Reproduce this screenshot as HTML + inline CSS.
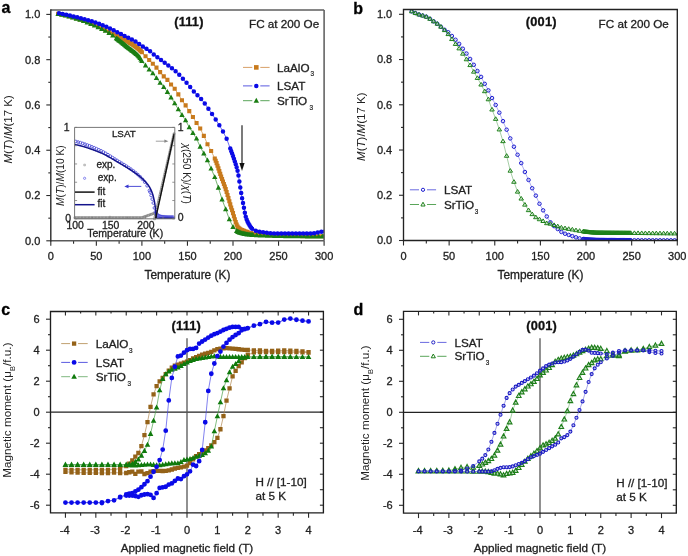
<!DOCTYPE html>
<html><head><meta charset="utf-8"><style>
html,body{margin:0;padding:0;background:#fff;width:688px;height:556px;overflow:hidden}
svg{display:block;filter:blur(0.35px)}
text{font-family:"Liberation Sans", sans-serif}
</style></head><body>
<svg width="688" height="556" viewBox="0 0 688 556" font-family='"Liberation Sans", sans-serif'>
<rect width="688" height="556" fill="#fff"/>
<line x1="50.8" y1="240.8" x2="50.8" y2="245.8" stroke="#2a2a2a" stroke-width="1.1" />
<text x="50.8" y="260.2" font-size="11" text-anchor="middle" font-weight="normal" fill="#222" stroke="#222" stroke-width="0.3" >0</text>
<line x1="73.57" y1="240.8" x2="73.57" y2="243.8" stroke="#2a2a2a" stroke-width="1.1" />
<line x1="96.35" y1="240.8" x2="96.35" y2="245.8" stroke="#2a2a2a" stroke-width="1.1" />
<text x="96.35" y="260.2" font-size="11" text-anchor="middle" font-weight="normal" fill="#222" stroke="#222" stroke-width="0.3" >50</text>
<line x1="119.12" y1="240.8" x2="119.12" y2="243.8" stroke="#2a2a2a" stroke-width="1.1" />
<line x1="141.9" y1="240.8" x2="141.9" y2="245.8" stroke="#2a2a2a" stroke-width="1.1" />
<text x="141.9" y="260.2" font-size="11" text-anchor="middle" font-weight="normal" fill="#222" stroke="#222" stroke-width="0.3" >100</text>
<line x1="164.68" y1="240.8" x2="164.68" y2="243.8" stroke="#2a2a2a" stroke-width="1.1" />
<line x1="187.45" y1="240.8" x2="187.45" y2="245.8" stroke="#2a2a2a" stroke-width="1.1" />
<text x="187.45" y="260.2" font-size="11" text-anchor="middle" font-weight="normal" fill="#222" stroke="#222" stroke-width="0.3" >150</text>
<line x1="210.23" y1="240.8" x2="210.23" y2="243.8" stroke="#2a2a2a" stroke-width="1.1" />
<line x1="233" y1="240.8" x2="233" y2="245.8" stroke="#2a2a2a" stroke-width="1.1" />
<text x="233" y="260.2" font-size="11" text-anchor="middle" font-weight="normal" fill="#222" stroke="#222" stroke-width="0.3" >200</text>
<line x1="255.77" y1="240.8" x2="255.77" y2="243.8" stroke="#2a2a2a" stroke-width="1.1" />
<line x1="278.55" y1="240.8" x2="278.55" y2="245.8" stroke="#2a2a2a" stroke-width="1.1" />
<text x="278.55" y="260.2" font-size="11" text-anchor="middle" font-weight="normal" fill="#222" stroke="#222" stroke-width="0.3" >250</text>
<line x1="301.32" y1="240.8" x2="301.32" y2="243.8" stroke="#2a2a2a" stroke-width="1.1" />
<line x1="324.1" y1="240.8" x2="324.1" y2="245.8" stroke="#2a2a2a" stroke-width="1.1" />
<text x="324.1" y="260.2" font-size="11" text-anchor="middle" font-weight="normal" fill="#222" stroke="#222" stroke-width="0.3" >300</text>
<line x1="46.3" y1="240.8" x2="50.8" y2="240.8" stroke="#2a2a2a" stroke-width="1.1" />
<text x="40.3" y="244.7" font-size="11" text-anchor="end" font-weight="normal" fill="#222" stroke="#222" stroke-width="0.3" >0.0</text>
<line x1="48.3" y1="218.16" x2="50.8" y2="218.16" stroke="#2a2a2a" stroke-width="1.1" />
<line x1="46.3" y1="195.52" x2="50.8" y2="195.52" stroke="#2a2a2a" stroke-width="1.1" />
<text x="40.3" y="199.42" font-size="11" text-anchor="end" font-weight="normal" fill="#222" stroke="#222" stroke-width="0.3" >0.2</text>
<line x1="48.3" y1="172.88" x2="50.8" y2="172.88" stroke="#2a2a2a" stroke-width="1.1" />
<line x1="46.3" y1="150.24" x2="50.8" y2="150.24" stroke="#2a2a2a" stroke-width="1.1" />
<text x="40.3" y="154.14" font-size="11" text-anchor="end" font-weight="normal" fill="#222" stroke="#222" stroke-width="0.3" >0.4</text>
<line x1="48.3" y1="127.6" x2="50.8" y2="127.6" stroke="#2a2a2a" stroke-width="1.1" />
<line x1="46.3" y1="104.96" x2="50.8" y2="104.96" stroke="#2a2a2a" stroke-width="1.1" />
<text x="40.3" y="108.86" font-size="11" text-anchor="end" font-weight="normal" fill="#222" stroke="#222" stroke-width="0.3" >0.6</text>
<line x1="48.3" y1="82.32" x2="50.8" y2="82.32" stroke="#2a2a2a" stroke-width="1.1" />
<line x1="46.3" y1="59.68" x2="50.8" y2="59.68" stroke="#2a2a2a" stroke-width="1.1" />
<text x="40.3" y="63.58" font-size="11" text-anchor="end" font-weight="normal" fill="#222" stroke="#222" stroke-width="0.3" >0.8</text>
<line x1="48.3" y1="37.04" x2="50.8" y2="37.04" stroke="#2a2a2a" stroke-width="1.1" />
<line x1="46.3" y1="14.4" x2="50.8" y2="14.4" stroke="#2a2a2a" stroke-width="1.1" />
<text x="40.3" y="18.3" font-size="11" text-anchor="end" font-weight="normal" fill="#222" stroke="#222" stroke-width="0.3" >1.0</text>
<text x="1.5" y="13.4" font-size="16" text-anchor="start" font-weight="bold" fill="#000" stroke="#000" stroke-width="0.3" >a</text>
<text x="187.45" y="279" font-size="11.9" text-anchor="middle" font-weight="normal" fill="#222" stroke="#222" stroke-width="0.3" >Temperature (K)</text>
<text transform="translate(12,129.4) rotate(-90)" font-size="11.5" text-anchor="middle" fill="#222"><tspan font-style="italic">M</tspan>(<tspan font-style="italic">T</tspan>)/<tspan font-style="italic">M</tspan>(17 K)</text>
<text x="174.2" y="25.5" font-size="12.8" text-anchor="start" font-weight="bold" fill="#111" stroke="#111" stroke-width="0.3" letter-spacing="0.2">(111)</text>
<text x="249" y="28" font-size="11.7" text-anchor="start" font-weight="normal" fill="#222" stroke="#222" stroke-width="0.3" >FC at 200 Oe</text>
<clipPath id="ca"><rect x="50.6" y="9.8" width="273.5" height="230.89999999999998"/></clipPath><g clip-path="url(#ca)">
<path d="M58.09 13.9L61.73 14.54L65.38 15.31L69.02 16.19L72.66 17.17L76.31 18.23L79.95 19.37L83.6 20.56L87.24 21.85L90.88 23.35L94.53 25L98.17 26.72L101.82 28.42L105.46 30.08L109.1 31.76L112.75 33.49L116.39 35.3L117.3 35.76L118.21 36.22L119.12 36.68L120.04 37.15L120.95 37.63L121.86 38.11L122.77 38.59L123.68 39.09L124.59 39.59L125.5 40.11L126.41 40.64L127.32 41.19L128.24 41.75L129.15 42.31L130.06 42.89L130.97 43.47L131.88 44.07L132.79 44.68L133.7 45.31L134.61 45.95L135.52 46.62L136.43 47.31L137.34 48.02L138.26 48.76L139.17 49.53L140.08 50.35L140.99 51.28L141.9 52.27L145.54 56.23L149.19 59.98L152.83 63.72L156.48 67.66L160.12 72.12L163.76 76.37L167.41 79.88L171.05 84.52L174.7 88.69L178.34 94.33L181.98 100.22L185.63 105.34L189.27 111.15L192.92 117.06L196.56 123.06L200.2 128.56L203.85 135.9L207.49 144.19L211.14 150.98L214.78 158.48L215.69 160.71L216.6 163.15L217.51 165.74L218.42 168.42L219.33 171.14L220.25 173.84L221.16 176.44L222.07 178.96L222.98 181.44L223.89 183.93L224.8 186.48L225.71 189.13L226.62 191.95L227.53 194.96L228.44 198.09L229.36 201.26L230.27 204.41L231.18 207.43L232.09 210.27L233 213.17L233.91 216.23L234.82 219.28L235.73 222.13L236.64 224.63L237.56 226.61L238.47 227.88L239.38 228.59L240.29 229.2L241.2 229.71L242.11 230.16L243.02 230.54L243.93 230.88L244.84 231.19L245.75 231.47L246.67 231.76L247.58 232.04L251.22 233.12L254.86 233.98L258.51 234.5L262.15 234.77L265.8 234.98L269.44 235.15L273.08 235.29L276.73 235.4L280.37 235.51L284.02 235.62L287.66 235.72L291.3 235.83L294.95 235.92L298.59 236.01L302.24 236.09L305.88 236.17L309.52 236.22L313.17 236.27L316.81 236.29L320.46 236.3L324.1 236.3" fill="none" stroke="#c87a1c" stroke-width="0.6" stroke-opacity="1.0"/>
<path d="M56.04 11.85h4.1v4.1h-4.1zM59.68 12.49h4.1v4.1h-4.1zM63.33 13.26h4.1v4.1h-4.1zM66.97 14.14h4.1v4.1h-4.1zM70.61 15.12h4.1v4.1h-4.1zM74.26 16.18h4.1v4.1h-4.1zM77.9 17.32h4.1v4.1h-4.1zM81.55 18.51h4.1v4.1h-4.1zM85.19 19.8h4.1v4.1h-4.1zM88.83 21.3h4.1v4.1h-4.1zM92.48 22.95h4.1v4.1h-4.1zM96.12 24.67h4.1v4.1h-4.1zM99.77 26.37h4.1v4.1h-4.1zM103.41 28.03h4.1v4.1h-4.1zM107.05 29.71h4.1v4.1h-4.1zM110.7 31.44h4.1v4.1h-4.1zM114.34 33.25h4.1v4.1h-4.1zM115.25 33.71h4.1v4.1h-4.1zM116.16 34.17h4.1v4.1h-4.1zM117.08 34.63h4.1v4.1h-4.1zM117.99 35.1h4.1v4.1h-4.1zM118.9 35.58h4.1v4.1h-4.1zM119.81 36.06h4.1v4.1h-4.1zM120.72 36.54h4.1v4.1h-4.1zM121.63 37.04h4.1v4.1h-4.1zM122.54 37.54h4.1v4.1h-4.1zM123.45 38.06h4.1v4.1h-4.1zM124.36 38.59h4.1v4.1h-4.1zM125.27 39.14h4.1v4.1h-4.1zM126.19 39.7h4.1v4.1h-4.1zM127.1 40.26h4.1v4.1h-4.1zM128.01 40.84h4.1v4.1h-4.1zM128.92 41.42h4.1v4.1h-4.1zM129.83 42.02h4.1v4.1h-4.1zM130.74 42.63h4.1v4.1h-4.1zM131.65 43.26h4.1v4.1h-4.1zM132.56 43.9h4.1v4.1h-4.1zM133.47 44.57h4.1v4.1h-4.1zM134.38 45.26h4.1v4.1h-4.1zM135.29 45.97h4.1v4.1h-4.1zM136.21 46.71h4.1v4.1h-4.1zM137.12 47.48h4.1v4.1h-4.1zM138.03 48.3h4.1v4.1h-4.1zM138.94 49.23h4.1v4.1h-4.1zM139.85 50.22h4.1v4.1h-4.1zM143.49 54.18h4.1v4.1h-4.1zM147.14 57.93h4.1v4.1h-4.1zM150.78 61.67h4.1v4.1h-4.1zM154.43 65.61h4.1v4.1h-4.1zM158.07 70.07h4.1v4.1h-4.1zM161.71 74.32h4.1v4.1h-4.1zM165.36 77.83h4.1v4.1h-4.1zM169 82.47h4.1v4.1h-4.1zM172.65 86.64h4.1v4.1h-4.1zM176.29 92.28h4.1v4.1h-4.1zM179.93 98.17h4.1v4.1h-4.1zM183.58 103.29h4.1v4.1h-4.1zM187.22 109.1h4.1v4.1h-4.1zM190.87 115.01h4.1v4.1h-4.1zM194.51 121.01h4.1v4.1h-4.1zM198.15 126.51h4.1v4.1h-4.1zM201.8 133.85h4.1v4.1h-4.1zM205.44 142.14h4.1v4.1h-4.1zM209.09 148.93h4.1v4.1h-4.1zM212.73 156.43h4.1v4.1h-4.1zM213.64 158.66h4.1v4.1h-4.1zM214.55 161.1h4.1v4.1h-4.1zM215.46 163.69h4.1v4.1h-4.1zM216.37 166.37h4.1v4.1h-4.1zM217.28 169.09h4.1v4.1h-4.1zM218.2 171.79h4.1v4.1h-4.1zM219.11 174.39h4.1v4.1h-4.1zM220.02 176.91h4.1v4.1h-4.1zM220.93 179.39h4.1v4.1h-4.1zM221.84 181.88h4.1v4.1h-4.1zM222.75 184.43h4.1v4.1h-4.1zM223.66 187.08h4.1v4.1h-4.1zM224.57 189.9h4.1v4.1h-4.1zM225.48 192.91h4.1v4.1h-4.1zM226.39 196.04h4.1v4.1h-4.1zM227.31 199.21h4.1v4.1h-4.1zM228.22 202.36h4.1v4.1h-4.1zM229.13 205.38h4.1v4.1h-4.1zM230.04 208.22h4.1v4.1h-4.1zM230.95 211.12h4.1v4.1h-4.1zM231.86 214.18h4.1v4.1h-4.1zM232.77 217.23h4.1v4.1h-4.1zM233.68 220.08h4.1v4.1h-4.1zM234.59 222.58h4.1v4.1h-4.1zM235.5 224.56h4.1v4.1h-4.1zM236.42 225.83h4.1v4.1h-4.1zM237.33 226.54h4.1v4.1h-4.1zM238.24 227.15h4.1v4.1h-4.1zM239.15 227.66h4.1v4.1h-4.1zM240.06 228.11h4.1v4.1h-4.1zM240.97 228.49h4.1v4.1h-4.1zM241.88 228.83h4.1v4.1h-4.1zM242.79 229.14h4.1v4.1h-4.1zM243.7 229.42h4.1v4.1h-4.1zM244.62 229.71h4.1v4.1h-4.1zM245.53 229.99h4.1v4.1h-4.1zM249.17 231.07h4.1v4.1h-4.1zM252.81 231.93h4.1v4.1h-4.1zM256.46 232.45h4.1v4.1h-4.1zM260.1 232.72h4.1v4.1h-4.1zM263.75 232.93h4.1v4.1h-4.1zM267.39 233.1h4.1v4.1h-4.1zM271.03 233.24h4.1v4.1h-4.1zM274.68 233.35h4.1v4.1h-4.1zM278.32 233.46h4.1v4.1h-4.1zM281.97 233.57h4.1v4.1h-4.1zM285.61 233.67h4.1v4.1h-4.1zM289.25 233.78h4.1v4.1h-4.1zM292.9 233.87h4.1v4.1h-4.1zM296.54 233.96h4.1v4.1h-4.1zM300.19 234.04h4.1v4.1h-4.1zM303.83 234.12h4.1v4.1h-4.1zM307.47 234.17h4.1v4.1h-4.1zM311.12 234.22h4.1v4.1h-4.1zM314.76 234.24h4.1v4.1h-4.1zM318.41 234.25h4.1v4.1h-4.1zM322.05 234.25h4.1v4.1h-4.1z" fill="#c87a1c"/>
<path d="M58.09 14.09L61.73 14.79L65.38 15.62L69.02 16.56L72.66 17.6L76.31 18.72L79.95 19.91L83.6 21.15L87.24 22.48L90.88 24.04L94.53 25.65L98.17 27.27L101.82 29.01L105.46 30.91L109.1 33.04L112.75 35.58L116.39 38.35L117.3 39.04L118.21 39.73L119.12 40.43L120.04 41.14L120.95 41.85L121.86 42.56L122.77 43.28L123.68 44.01L124.59 44.73L125.5 45.47L126.41 46.21L127.32 46.95L128.24 47.69L129.15 48.41L130.06 49.1L130.97 49.77L131.88 50.44L132.79 51.11L133.7 51.79L134.61 52.5L135.52 53.25L136.43 54.05L137.34 54.92L138.26 55.85L139.17 56.86L140.08 58.04L140.99 59.66L141.9 61.06L145.54 65.43L149.19 69.59L152.83 73.29L156.48 78.13L160.12 82.92L163.76 87.06L167.41 91.98L171.05 97.51L174.7 103.37L178.34 109.3L181.98 115.02L185.63 120.42L189.27 127.3L192.92 132.95L196.56 138.68L200.2 146.78L203.85 153.52L207.49 160.36L211.14 168.65L214.78 177.13L218.42 187.79L222.07 199.46L225.71 209.23L229.36 219.34L233 226.97L236.64 231.02L237.56 231.58L238.47 232.03L239.38 232.43L240.29 232.78L241.2 233.09L242.11 233.35L243.02 233.59L243.93 233.79L244.84 233.97L245.75 234.14L246.67 234.29L247.58 234.44L248.49 234.57L249.4 234.69L250.31 234.8L251.22 234.89L252.13 234.97L253.04 235.03L256.69 235.26L260.33 235.46L263.97 235.64L267.62 235.78L271.26 235.9L274.91 236L278.55 236.08L282.19 236.13L285.84 236.19L289.48 236.24L293.13 236.29L296.77 236.33L300.41 236.37L304.06 236.41L307.7 236.44L311.35 236.46L314.99 236.48L318.63 236.49L322.28 236.5L324.1 236.5" fill="none" stroke="#1a7d12" stroke-width="0.6" stroke-opacity="1.0"/>
<path d="M58.09 11.18L60.79 16.04L55.39 16.04zM61.73 11.88L64.43 16.74L59.03 16.74zM65.38 12.71L68.08 17.57L62.68 17.57zM69.02 13.65L71.72 18.51L66.32 18.51zM72.66 14.69L75.36 19.55L69.96 19.55zM76.31 15.81L79.01 20.67L73.61 20.67zM79.95 16.99L82.65 21.85L77.25 21.85zM83.6 18.23L86.3 23.09L80.9 23.09zM87.24 19.57L89.94 24.43L84.54 24.43zM90.88 21.13L93.58 25.99L88.18 25.99zM94.53 22.73L97.23 27.59L91.83 27.59zM98.17 24.36L100.87 29.22L95.47 29.22zM101.82 26.09L104.52 30.95L99.12 30.95zM105.46 27.99L108.16 32.85L102.76 32.85zM109.1 30.12L111.8 34.98L106.4 34.98zM112.75 32.66L115.45 37.52L110.05 37.52zM116.39 35.43L119.09 40.29L113.69 40.29zM117.3 36.12L120 40.98L114.6 40.98zM118.21 36.82L120.91 41.68L115.51 41.68zM119.12 37.52L121.83 42.38L116.42 42.38zM120.04 38.22L122.74 43.08L117.34 43.08zM120.95 38.93L123.65 43.79L118.25 43.79zM121.86 39.65L124.56 44.51L119.16 44.51zM122.77 40.37L125.47 45.23L120.07 45.23zM123.68 41.09L126.38 45.95L120.98 45.95zM124.59 41.82L127.29 46.68L121.89 46.68zM125.5 42.55L128.2 47.41L122.8 47.41zM126.41 43.29L129.11 48.15L123.71 48.15zM127.32 44.03L130.02 48.89L124.62 48.89zM128.24 44.78L130.94 49.64L125.54 49.64zM129.15 45.49L131.85 50.35L126.45 50.35zM130.06 46.18L132.76 51.04L127.36 51.04zM130.97 46.85L133.67 51.71L128.27 51.71zM131.88 47.52L134.58 52.38L129.18 52.38zM132.79 48.19L135.49 53.05L130.09 53.05zM133.7 48.88L136.4 53.74L131 53.74zM134.61 49.59L137.31 54.45L131.91 54.45zM135.52 50.34L138.22 55.2L132.82 55.2zM136.43 51.14L139.13 56L133.73 56zM137.34 52L140.04 56.86L134.65 56.86zM138.26 52.93L140.96 57.79L135.56 57.79zM139.17 53.95L141.87 58.81L136.47 58.81zM140.08 55.12L142.78 59.98L137.38 59.98zM140.99 56.75L143.69 61.61L138.29 61.61zM141.9 58.14L144.6 63L139.2 63zM145.54 62.52L148.24 67.38L142.84 67.38zM149.19 66.68L151.89 71.54L146.49 71.54zM152.83 70.38L155.53 75.24L150.13 75.24zM156.48 75.22L159.18 80.08L153.78 80.08zM160.12 80.01L162.82 84.87L157.42 84.87zM163.76 84.14L166.46 89L161.06 89zM167.41 89.07L170.11 93.93L164.71 93.93zM171.05 94.6L173.75 99.46L168.35 99.46zM174.7 100.46L177.4 105.32L172 105.32zM178.34 106.38L181.04 111.24L175.64 111.24zM181.98 112.11L184.68 116.97L179.28 116.97zM185.63 117.5L188.33 122.36L182.93 122.36zM189.27 124.39L191.97 129.25L186.57 129.25zM192.92 130.04L195.62 134.9L190.22 134.9zM196.56 135.76L199.26 140.62L193.86 140.62zM200.2 143.87L202.9 148.73L197.5 148.73zM203.85 150.6L206.55 155.46L201.15 155.46zM207.49 157.44L210.19 162.3L204.79 162.3zM211.14 165.73L213.84 170.59L208.44 170.59zM214.78 174.22L217.48 179.08L212.08 179.08zM218.42 184.87L221.12 189.73L215.72 189.73zM222.07 196.54L224.77 201.4L219.37 201.4zM225.71 206.32L228.41 211.18L223.01 211.18zM229.36 216.42L232.06 221.28L226.66 221.28zM233 224.06L235.7 228.92L230.3 228.92zM236.64 228.1L239.34 232.96L233.94 232.96zM237.56 228.67L240.25 233.53L234.86 233.53zM238.47 229.12L241.17 233.98L235.77 233.98zM239.38 229.52L242.08 234.38L236.68 234.38zM240.29 229.87L242.99 234.73L237.59 234.73zM241.2 230.17L243.9 235.03L238.5 235.03zM242.11 230.44L244.81 235.3L239.41 235.3zM243.02 230.67L245.72 235.53L240.32 235.53zM243.93 230.87L246.63 235.73L241.23 235.73zM244.84 231.05L247.54 235.91L242.14 235.91zM245.75 231.22L248.45 236.08L243.05 236.08zM246.67 231.38L249.37 236.24L243.97 236.24zM247.58 231.52L250.28 236.38L244.88 236.38zM248.49 231.65L251.19 236.51L245.79 236.51zM249.4 231.77L252.1 236.63L246.7 236.63zM250.31 231.88L253.01 236.74L247.61 236.74zM251.22 231.97L253.92 236.83L248.52 236.83zM252.13 232.05L254.83 236.91L249.43 236.91zM253.04 232.11L255.74 236.97L250.34 236.97zM256.69 232.35L259.39 237.21L253.99 237.21zM260.33 232.55L263.03 237.41L257.63 237.41zM263.97 232.72L266.67 237.58L261.27 237.58zM267.62 232.87L270.32 237.73L264.92 237.73zM271.26 232.99L273.96 237.85L268.56 237.85zM274.91 233.08L277.61 237.94L272.21 237.94zM278.55 233.16L281.25 238.02L275.85 238.02zM282.19 233.22L284.89 238.08L279.49 238.08zM285.84 233.27L288.54 238.13L283.14 238.13zM289.48 233.32L292.18 238.18L286.78 238.18zM293.13 233.37L295.83 238.23L290.43 238.23zM296.77 233.42L299.47 238.28L294.07 238.28zM300.41 233.46L303.11 238.32L297.71 238.32zM304.06 233.49L306.76 238.35L301.36 238.35zM307.7 233.52L310.4 238.38L305 238.38zM311.35 233.55L314.05 238.41L308.65 238.41zM314.99 233.57L317.69 238.43L312.29 238.43zM318.63 233.58L321.33 238.44L315.93 238.44zM322.28 233.58L324.98 238.44L319.58 238.44zM324.1 233.58L326.8 238.44L321.4 238.44z" fill="#1a7d12"/>
<path d="M59 13.35L62.64 14.04L66.29 14.79L69.93 15.59L73.57 16.44L77.22 17.32L80.86 18.25L84.51 19.2L88.15 20.21L91.79 21.33L95.44 22.54L99.08 23.84L102.73 25.25L106.37 26.81L110.02 28.51L113.66 30.27L117.3 32.15L120.95 34.1L124.59 36L128.24 37.77L131.88 39.54L135.52 41.53L139.17 44.01L142.81 46.52L146.45 48.65L150.1 51.14L153.74 54.44L157.39 57.24L161.03 59.95L164.68 62.73L168.32 65.51L171.96 68.22L175.61 71.13L179.25 74.78L182.89 78.85L186.54 82.83L190.18 86.96L193.83 91.5L197.47 95.25L201.12 98.96L204.76 103.55L208.4 108.66L212.05 113.95L215.69 119.52L219.33 125.25L222.98 131.43L226.62 138.67L230.27 148.46L231.18 150.97L232.09 153.48L233 156.04L233.91 158.73L234.82 161.44L235.73 164.15L236.64 167.13L237.56 170.67L238.47 175.47L239.38 181.58L240.29 187.53L241.2 192.95L242.11 198.16L243.02 203.07L243.93 207.82L244.84 212.73L245.75 216.82L246.67 219.54L247.58 221.7L248.49 223.48L249.4 225.08L250.31 226.55L251.22 227.81L252.13 228.76L255.77 230.67L259.42 231.76L263.06 232.32L266.71 232.78L270.35 233.15L274 233.42L277.64 233.57L281.28 233.6L284.93 233.6L288.57 233.6L292.21 233.6L295.86 233.6L299.5 233.6L303.15 233.58L306.79 233.52L310.44 233.41L314.08 233.25L317.72 232.46L321.37 231.64L325.01 231.58" fill="none" stroke="#0a0ae6" stroke-width="0.6" stroke-opacity="1.0"/>
<path d="M56.75 13.35a2.25 2.25 0 1 0 4.5 0a2.25 2.25 0 1 0 -4.5 0zM60.39 14.04a2.25 2.25 0 1 0 4.5 0a2.25 2.25 0 1 0 -4.5 0zM64.04 14.79a2.25 2.25 0 1 0 4.5 0a2.25 2.25 0 1 0 -4.5 0zM67.68 15.59a2.25 2.25 0 1 0 4.5 0a2.25 2.25 0 1 0 -4.5 0zM71.32 16.44a2.25 2.25 0 1 0 4.5 0a2.25 2.25 0 1 0 -4.5 0zM74.97 17.32a2.25 2.25 0 1 0 4.5 0a2.25 2.25 0 1 0 -4.5 0zM78.61 18.25a2.25 2.25 0 1 0 4.5 0a2.25 2.25 0 1 0 -4.5 0zM82.26 19.2a2.25 2.25 0 1 0 4.5 0a2.25 2.25 0 1 0 -4.5 0zM85.9 20.21a2.25 2.25 0 1 0 4.5 0a2.25 2.25 0 1 0 -4.5 0zM89.54 21.33a2.25 2.25 0 1 0 4.5 0a2.25 2.25 0 1 0 -4.5 0zM93.19 22.54a2.25 2.25 0 1 0 4.5 0a2.25 2.25 0 1 0 -4.5 0zM96.83 23.84a2.25 2.25 0 1 0 4.5 0a2.25 2.25 0 1 0 -4.5 0zM100.48 25.25a2.25 2.25 0 1 0 4.5 0a2.25 2.25 0 1 0 -4.5 0zM104.12 26.81a2.25 2.25 0 1 0 4.5 0a2.25 2.25 0 1 0 -4.5 0zM107.77 28.51a2.25 2.25 0 1 0 4.5 0a2.25 2.25 0 1 0 -4.5 0zM111.41 30.27a2.25 2.25 0 1 0 4.5 0a2.25 2.25 0 1 0 -4.5 0zM115.05 32.15a2.25 2.25 0 1 0 4.5 0a2.25 2.25 0 1 0 -4.5 0zM118.7 34.1a2.25 2.25 0 1 0 4.5 0a2.25 2.25 0 1 0 -4.5 0zM122.34 36a2.25 2.25 0 1 0 4.5 0a2.25 2.25 0 1 0 -4.5 0zM125.99 37.77a2.25 2.25 0 1 0 4.5 0a2.25 2.25 0 1 0 -4.5 0zM129.63 39.54a2.25 2.25 0 1 0 4.5 0a2.25 2.25 0 1 0 -4.5 0zM133.27 41.53a2.25 2.25 0 1 0 4.5 0a2.25 2.25 0 1 0 -4.5 0zM136.92 44.01a2.25 2.25 0 1 0 4.5 0a2.25 2.25 0 1 0 -4.5 0zM140.56 46.52a2.25 2.25 0 1 0 4.5 0a2.25 2.25 0 1 0 -4.5 0zM144.2 48.65a2.25 2.25 0 1 0 4.5 0a2.25 2.25 0 1 0 -4.5 0zM147.85 51.14a2.25 2.25 0 1 0 4.5 0a2.25 2.25 0 1 0 -4.5 0zM151.49 54.44a2.25 2.25 0 1 0 4.5 0a2.25 2.25 0 1 0 -4.5 0zM155.14 57.24a2.25 2.25 0 1 0 4.5 0a2.25 2.25 0 1 0 -4.5 0zM158.78 59.95a2.25 2.25 0 1 0 4.5 0a2.25 2.25 0 1 0 -4.5 0zM162.43 62.73a2.25 2.25 0 1 0 4.5 0a2.25 2.25 0 1 0 -4.5 0zM166.07 65.51a2.25 2.25 0 1 0 4.5 0a2.25 2.25 0 1 0 -4.5 0zM169.71 68.22a2.25 2.25 0 1 0 4.5 0a2.25 2.25 0 1 0 -4.5 0zM173.36 71.13a2.25 2.25 0 1 0 4.5 0a2.25 2.25 0 1 0 -4.5 0zM177 74.78a2.25 2.25 0 1 0 4.5 0a2.25 2.25 0 1 0 -4.5 0zM180.64 78.85a2.25 2.25 0 1 0 4.5 0a2.25 2.25 0 1 0 -4.5 0zM184.29 82.83a2.25 2.25 0 1 0 4.5 0a2.25 2.25 0 1 0 -4.5 0zM187.93 86.96a2.25 2.25 0 1 0 4.5 0a2.25 2.25 0 1 0 -4.5 0zM191.58 91.5a2.25 2.25 0 1 0 4.5 0a2.25 2.25 0 1 0 -4.5 0zM195.22 95.25a2.25 2.25 0 1 0 4.5 0a2.25 2.25 0 1 0 -4.5 0zM198.87 98.96a2.25 2.25 0 1 0 4.5 0a2.25 2.25 0 1 0 -4.5 0zM202.51 103.55a2.25 2.25 0 1 0 4.5 0a2.25 2.25 0 1 0 -4.5 0zM206.15 108.66a2.25 2.25 0 1 0 4.5 0a2.25 2.25 0 1 0 -4.5 0zM209.8 113.95a2.25 2.25 0 1 0 4.5 0a2.25 2.25 0 1 0 -4.5 0zM213.44 119.52a2.25 2.25 0 1 0 4.5 0a2.25 2.25 0 1 0 -4.5 0zM217.08 125.25a2.25 2.25 0 1 0 4.5 0a2.25 2.25 0 1 0 -4.5 0zM220.73 131.43a2.25 2.25 0 1 0 4.5 0a2.25 2.25 0 1 0 -4.5 0zM224.37 138.67a2.25 2.25 0 1 0 4.5 0a2.25 2.25 0 1 0 -4.5 0zM228.02 148.46a2.25 2.25 0 1 0 4.5 0a2.25 2.25 0 1 0 -4.5 0zM228.93 150.97a2.25 2.25 0 1 0 4.5 0a2.25 2.25 0 1 0 -4.5 0zM229.84 153.48a2.25 2.25 0 1 0 4.5 0a2.25 2.25 0 1 0 -4.5 0zM230.75 156.04a2.25 2.25 0 1 0 4.5 0a2.25 2.25 0 1 0 -4.5 0zM231.66 158.73a2.25 2.25 0 1 0 4.5 0a2.25 2.25 0 1 0 -4.5 0zM232.57 161.44a2.25 2.25 0 1 0 4.5 0a2.25 2.25 0 1 0 -4.5 0zM233.48 164.15a2.25 2.25 0 1 0 4.5 0a2.25 2.25 0 1 0 -4.5 0zM234.39 167.13a2.25 2.25 0 1 0 4.5 0a2.25 2.25 0 1 0 -4.5 0zM235.31 170.67a2.25 2.25 0 1 0 4.5 0a2.25 2.25 0 1 0 -4.5 0zM236.22 175.47a2.25 2.25 0 1 0 4.5 0a2.25 2.25 0 1 0 -4.5 0zM237.13 181.58a2.25 2.25 0 1 0 4.5 0a2.25 2.25 0 1 0 -4.5 0zM238.04 187.53a2.25 2.25 0 1 0 4.5 0a2.25 2.25 0 1 0 -4.5 0zM238.95 192.95a2.25 2.25 0 1 0 4.5 0a2.25 2.25 0 1 0 -4.5 0zM239.86 198.16a2.25 2.25 0 1 0 4.5 0a2.25 2.25 0 1 0 -4.5 0zM240.77 203.07a2.25 2.25 0 1 0 4.5 0a2.25 2.25 0 1 0 -4.5 0zM241.68 207.82a2.25 2.25 0 1 0 4.5 0a2.25 2.25 0 1 0 -4.5 0zM242.59 212.73a2.25 2.25 0 1 0 4.5 0a2.25 2.25 0 1 0 -4.5 0zM243.5 216.82a2.25 2.25 0 1 0 4.5 0a2.25 2.25 0 1 0 -4.5 0zM244.42 219.54a2.25 2.25 0 1 0 4.5 0a2.25 2.25 0 1 0 -4.5 0zM245.33 221.7a2.25 2.25 0 1 0 4.5 0a2.25 2.25 0 1 0 -4.5 0zM246.24 223.48a2.25 2.25 0 1 0 4.5 0a2.25 2.25 0 1 0 -4.5 0zM247.15 225.08a2.25 2.25 0 1 0 4.5 0a2.25 2.25 0 1 0 -4.5 0zM248.06 226.55a2.25 2.25 0 1 0 4.5 0a2.25 2.25 0 1 0 -4.5 0zM248.97 227.81a2.25 2.25 0 1 0 4.5 0a2.25 2.25 0 1 0 -4.5 0zM249.88 228.76a2.25 2.25 0 1 0 4.5 0a2.25 2.25 0 1 0 -4.5 0zM253.52 230.67a2.25 2.25 0 1 0 4.5 0a2.25 2.25 0 1 0 -4.5 0zM257.17 231.76a2.25 2.25 0 1 0 4.5 0a2.25 2.25 0 1 0 -4.5 0zM260.81 232.32a2.25 2.25 0 1 0 4.5 0a2.25 2.25 0 1 0 -4.5 0zM264.46 232.78a2.25 2.25 0 1 0 4.5 0a2.25 2.25 0 1 0 -4.5 0zM268.1 233.15a2.25 2.25 0 1 0 4.5 0a2.25 2.25 0 1 0 -4.5 0zM271.75 233.42a2.25 2.25 0 1 0 4.5 0a2.25 2.25 0 1 0 -4.5 0zM275.39 233.57a2.25 2.25 0 1 0 4.5 0a2.25 2.25 0 1 0 -4.5 0zM279.03 233.6a2.25 2.25 0 1 0 4.5 0a2.25 2.25 0 1 0 -4.5 0zM282.68 233.6a2.25 2.25 0 1 0 4.5 0a2.25 2.25 0 1 0 -4.5 0zM286.32 233.6a2.25 2.25 0 1 0 4.5 0a2.25 2.25 0 1 0 -4.5 0zM289.96 233.6a2.25 2.25 0 1 0 4.5 0a2.25 2.25 0 1 0 -4.5 0zM293.61 233.6a2.25 2.25 0 1 0 4.5 0a2.25 2.25 0 1 0 -4.5 0zM297.25 233.6a2.25 2.25 0 1 0 4.5 0a2.25 2.25 0 1 0 -4.5 0zM300.9 233.58a2.25 2.25 0 1 0 4.5 0a2.25 2.25 0 1 0 -4.5 0zM304.54 233.52a2.25 2.25 0 1 0 4.5 0a2.25 2.25 0 1 0 -4.5 0zM308.19 233.41a2.25 2.25 0 1 0 4.5 0a2.25 2.25 0 1 0 -4.5 0zM311.83 233.25a2.25 2.25 0 1 0 4.5 0a2.25 2.25 0 1 0 -4.5 0zM315.47 232.46a2.25 2.25 0 1 0 4.5 0a2.25 2.25 0 1 0 -4.5 0zM319.12 231.64a2.25 2.25 0 1 0 4.5 0a2.25 2.25 0 1 0 -4.5 0zM322.76 231.58a2.25 2.25 0 1 0 4.5 0a2.25 2.25 0 1 0 -4.5 0z" fill="#0a0ae6"/>
</g>
<line x1="50.8" y1="240.8" x2="324.1" y2="240.8" stroke="#5a5a5a" stroke-width="1.5" />
<line x1="324.1" y1="9.9" x2="324.1" y2="240.8" stroke="#5a5a5a" stroke-width="1.5" />
<line x1="50.8" y1="9.9" x2="324.1" y2="9.9" stroke="#5e5e5e" stroke-width="1.5" />
<line x1="50.8" y1="9.2" x2="50.8" y2="241.5" stroke="#2a2a2a" stroke-width="1.4" />
<line x1="243" y1="67.4" x2="252.3" y2="67.4" stroke="#d8a068" stroke-width="1.0" />
<line x1="260.3" y1="67.4" x2="269.6" y2="67.4" stroke="#d8a068" stroke-width="1.0" />
<path d="M254 65.1h4.6v4.6h-4.6z" fill="#c87a1c"/>
<text x="277" y="71.5" font-size="11.7" text-anchor="start" font-weight="normal" fill="#222" stroke="#222" stroke-width="0.3" >LaAlO</text>
<text x="310.4" y="76.4" font-size="6.4" fill="#222" stroke="#222" stroke-width="0.2">3</text>
<line x1="243" y1="85.9" x2="252.3" y2="85.9" stroke="#5a5ae0" stroke-width="1.0" />
<line x1="260.3" y1="85.9" x2="269.6" y2="85.9" stroke="#5a5ae0" stroke-width="1.0" />
<path d="M254.05 85.9a2.25 2.25 0 1 0 4.5 0a2.25 2.25 0 1 0 -4.5 0z" fill="#0a0ae6"/>
<text x="277" y="90" font-size="11.7" text-anchor="start" font-weight="normal" fill="#222" stroke="#222" stroke-width="0.3" >LSAT</text>
<line x1="243" y1="100.7" x2="252.3" y2="100.7" stroke="#5aa55a" stroke-width="1.0" />
<line x1="260.3" y1="100.7" x2="269.6" y2="100.7" stroke="#5aa55a" stroke-width="1.0" />
<path d="M256.3 97.78L259 102.64L253.6 102.64z" fill="#1a7d12"/>
<text x="277" y="104.8" font-size="11.7" text-anchor="start" font-weight="normal" fill="#222" stroke="#222" stroke-width="0.3" >SrTiO</text>
<text x="309.4" y="109.7" font-size="6.4" fill="#222" stroke="#222" stroke-width="0.2">3</text>
<line x1="242" y1="125.3" x2="242" y2="164" stroke="#222" stroke-width="1.2" />
<path d="M239.4 163L244.6 163L242 171Z" fill="#111"/>
<rect x="74.6" y="127.4" width="100.2" height="91.4" fill="#fff"/>
<path d="M74.05 216.8h1.8v1.8h-1.8zM75.47 216.8h1.8v1.8h-1.8zM76.88 216.8h1.8v1.8h-1.8zM78.3 216.8h1.8v1.8h-1.8zM79.71 216.8h1.8v1.8h-1.8zM81.13 216.8h1.8v1.8h-1.8zM82.54 216.8h1.8v1.8h-1.8zM83.96 216.8h1.8v1.8h-1.8zM85.37 216.8h1.8v1.8h-1.8zM86.79 216.8h1.8v1.8h-1.8zM88.2 216.8h1.8v1.8h-1.8zM89.62 216.8h1.8v1.8h-1.8zM91.03 216.8h1.8v1.8h-1.8zM92.45 216.8h1.8v1.8h-1.8zM93.86 216.8h1.8v1.8h-1.8zM95.28 216.8h1.8v1.8h-1.8zM96.69 216.8h1.8v1.8h-1.8zM98.11 216.8h1.8v1.8h-1.8zM99.52 216.8h1.8v1.8h-1.8zM100.94 216.8h1.8v1.8h-1.8zM102.35 216.8h1.8v1.8h-1.8zM103.77 216.8h1.8v1.8h-1.8zM105.18 216.8h1.8v1.8h-1.8zM106.6 216.8h1.8v1.8h-1.8zM108.01 216.8h1.8v1.8h-1.8zM109.43 216.8h1.8v1.8h-1.8zM110.84 216.8h1.8v1.8h-1.8zM112.26 216.8h1.8v1.8h-1.8zM113.67 216.8h1.8v1.8h-1.8zM115.09 216.8h1.8v1.8h-1.8zM116.5 216.8h1.8v1.8h-1.8zM117.92 216.8h1.8v1.8h-1.8zM119.33 216.8h1.8v1.8h-1.8zM120.75 216.8h1.8v1.8h-1.8zM122.16 216.8h1.8v1.8h-1.8zM123.58 216.8h1.8v1.8h-1.8zM124.99 216.8h1.8v1.8h-1.8zM126.41 216.8h1.8v1.8h-1.8zM127.82 216.8h1.8v1.8h-1.8zM129.24 216.8h1.8v1.8h-1.8zM130.65 216.8h1.8v1.8h-1.8zM132.07 216.8h1.8v1.8h-1.8zM133.48 216.8h1.8v1.8h-1.8zM134.9 216.8h1.8v1.8h-1.8zM136.31 216.8h1.8v1.8h-1.8zM137.73 216.8h1.8v1.8h-1.8zM139.14 216.8h1.8v1.8h-1.8zM140.56 216.8h1.8v1.8h-1.8zM141.97 216.42h1.8v1.8h-1.8zM143.39 215.91h1.8v1.8h-1.8zM144.8 215.41h1.8v1.8h-1.8zM146.22 214.9h1.8v1.8h-1.8zM147.63 214.39h1.8v1.8h-1.8zM149.05 213.88h1.8v1.8h-1.8zM150.46 213.38h1.8v1.8h-1.8zM151.88 212.87h1.8v1.8h-1.8zM153.29 212.36h1.8v1.8h-1.8zM153.65 217.9h1.8v1.8h-1.8zM154.07 216.05h1.8v1.8h-1.8zM154.5 214.2h1.8v1.8h-1.8zM154.92 212.36h1.8v1.8h-1.8zM155.35 210.51h1.8v1.8h-1.8zM155.77 208.66h1.8v1.8h-1.8zM156.19 206.81h1.8v1.8h-1.8zM156.62 204.96h1.8v1.8h-1.8zM157.04 203.12h1.8v1.8h-1.8zM157.47 201.27h1.8v1.8h-1.8zM157.89 199.42h1.8v1.8h-1.8zM158.32 197.57h1.8v1.8h-1.8zM158.74 195.73h1.8v1.8h-1.8zM159.17 193.88h1.8v1.8h-1.8zM159.59 192.03h1.8v1.8h-1.8zM160.01 190.18h1.8v1.8h-1.8zM160.44 188.33h1.8v1.8h-1.8zM160.86 186.49h1.8v1.8h-1.8zM161.29 184.64h1.8v1.8h-1.8zM161.71 182.79h1.8v1.8h-1.8zM162.14 180.94h1.8v1.8h-1.8zM162.56 179.09h1.8v1.8h-1.8zM162.99 177.25h1.8v1.8h-1.8zM163.41 175.4h1.8v1.8h-1.8zM163.84 173.55h1.8v1.8h-1.8zM164.26 171.7h1.8v1.8h-1.8zM164.68 169.86h1.8v1.8h-1.8zM165.11 168.01h1.8v1.8h-1.8zM165.53 166.16h1.8v1.8h-1.8zM165.96 164.31h1.8v1.8h-1.8zM166.38 162.46h1.8v1.8h-1.8zM166.81 160.62h1.8v1.8h-1.8zM167.23 158.77h1.8v1.8h-1.8zM167.66 156.92h1.8v1.8h-1.8zM168.08 155.07h1.8v1.8h-1.8zM168.5 153.22h1.8v1.8h-1.8zM168.93 151.38h1.8v1.8h-1.8zM169.35 149.53h1.8v1.8h-1.8zM169.78 147.68h1.8v1.8h-1.8zM170.2 145.83h1.8v1.8h-1.8zM170.63 143.99h1.8v1.8h-1.8zM171.05 142.14h1.8v1.8h-1.8zM171.48 140.29h1.8v1.8h-1.8zM171.9 138.44h1.8v1.8h-1.8zM172.33 136.59h1.8v1.8h-1.8zM172.75 134.75h1.8v1.8h-1.8zM173.17 132.9h1.8v1.8h-1.8z" fill="none" stroke="#7a7a7a" stroke-width="0.7"/>
<path d="M74.45 141.47a1.35 1.35 0 1 0 2.7 0a1.35 1.35 0 1 0 -2.7 0zM76.75 142.05a1.35 1.35 0 1 0 2.7 0a1.35 1.35 0 1 0 -2.7 0zM79.05 142.7a1.35 1.35 0 1 0 2.7 0a1.35 1.35 0 1 0 -2.7 0zM81.35 143.41a1.35 1.35 0 1 0 2.7 0a1.35 1.35 0 1 0 -2.7 0zM83.65 144.18a1.35 1.35 0 1 0 2.7 0a1.35 1.35 0 1 0 -2.7 0zM85.95 145.01a1.35 1.35 0 1 0 2.7 0a1.35 1.35 0 1 0 -2.7 0zM88.25 145.88a1.35 1.35 0 1 0 2.7 0a1.35 1.35 0 1 0 -2.7 0zM90.55 146.8a1.35 1.35 0 1 0 2.7 0a1.35 1.35 0 1 0 -2.7 0zM92.85 147.75a1.35 1.35 0 1 0 2.7 0a1.35 1.35 0 1 0 -2.7 0zM95.15 148.74a1.35 1.35 0 1 0 2.7 0a1.35 1.35 0 1 0 -2.7 0zM97.45 149.76a1.35 1.35 0 1 0 2.7 0a1.35 1.35 0 1 0 -2.7 0zM99.75 150.82a1.35 1.35 0 1 0 2.7 0a1.35 1.35 0 1 0 -2.7 0zM102.05 152a1.35 1.35 0 1 0 2.7 0a1.35 1.35 0 1 0 -2.7 0zM104.35 153.3a1.35 1.35 0 1 0 2.7 0a1.35 1.35 0 1 0 -2.7 0zM106.65 154.69a1.35 1.35 0 1 0 2.7 0a1.35 1.35 0 1 0 -2.7 0zM108.95 156.13a1.35 1.35 0 1 0 2.7 0a1.35 1.35 0 1 0 -2.7 0zM111.25 157.6a1.35 1.35 0 1 0 2.7 0a1.35 1.35 0 1 0 -2.7 0zM113.55 159.06a1.35 1.35 0 1 0 2.7 0a1.35 1.35 0 1 0 -2.7 0zM115.85 160.5a1.35 1.35 0 1 0 2.7 0a1.35 1.35 0 1 0 -2.7 0zM118.15 161.88a1.35 1.35 0 1 0 2.7 0a1.35 1.35 0 1 0 -2.7 0zM120.45 163.26a1.35 1.35 0 1 0 2.7 0a1.35 1.35 0 1 0 -2.7 0zM122.75 164.67a1.35 1.35 0 1 0 2.7 0a1.35 1.35 0 1 0 -2.7 0zM125.05 166.13a1.35 1.35 0 1 0 2.7 0a1.35 1.35 0 1 0 -2.7 0zM127.35 167.65a1.35 1.35 0 1 0 2.7 0a1.35 1.35 0 1 0 -2.7 0zM129.65 169.21a1.35 1.35 0 1 0 2.7 0a1.35 1.35 0 1 0 -2.7 0zM131.95 170.86a1.35 1.35 0 1 0 2.7 0a1.35 1.35 0 1 0 -2.7 0zM134.25 172.66a1.35 1.35 0 1 0 2.7 0a1.35 1.35 0 1 0 -2.7 0zM136.55 174.61a1.35 1.35 0 1 0 2.7 0a1.35 1.35 0 1 0 -2.7 0zM138.85 176.77a1.35 1.35 0 1 0 2.7 0a1.35 1.35 0 1 0 -2.7 0zM141.15 179.26a1.35 1.35 0 1 0 2.7 0a1.35 1.35 0 1 0 -2.7 0zM143.45 182.18a1.35 1.35 0 1 0 2.7 0a1.35 1.35 0 1 0 -2.7 0zM145.75 185.74a1.35 1.35 0 1 0 2.7 0a1.35 1.35 0 1 0 -2.7 0zM148.05 190.46a1.35 1.35 0 1 0 2.7 0a1.35 1.35 0 1 0 -2.7 0zM148.65 192.09a1.35 1.35 0 1 0 2.7 0a1.35 1.35 0 1 0 -2.7 0zM149.75 195.46a1.35 1.35 0 1 0 2.7 0a1.35 1.35 0 1 0 -2.7 0zM150.85 199.15a1.35 1.35 0 1 0 2.7 0a1.35 1.35 0 1 0 -2.7 0zM151.95 203.02a1.35 1.35 0 1 0 2.7 0a1.35 1.35 0 1 0 -2.7 0zM153.05 207.91a1.35 1.35 0 1 0 2.7 0a1.35 1.35 0 1 0 -2.7 0zM154.15 211.8a1.35 1.35 0 1 0 2.7 0a1.35 1.35 0 1 0 -2.7 0zM155.25 213.68a1.35 1.35 0 1 0 2.7 0a1.35 1.35 0 1 0 -2.7 0zM156.35 215.07a1.35 1.35 0 1 0 2.7 0a1.35 1.35 0 1 0 -2.7 0zM157.45 215.86a1.35 1.35 0 1 0 2.7 0a1.35 1.35 0 1 0 -2.7 0zM158.55 216.22a1.35 1.35 0 1 0 2.7 0a1.35 1.35 0 1 0 -2.7 0zM159.65 216.48a1.35 1.35 0 1 0 2.7 0a1.35 1.35 0 1 0 -2.7 0zM160.75 216.67a1.35 1.35 0 1 0 2.7 0a1.35 1.35 0 1 0 -2.7 0zM161.85 216.79a1.35 1.35 0 1 0 2.7 0a1.35 1.35 0 1 0 -2.7 0zM162.95 216.86a1.35 1.35 0 1 0 2.7 0a1.35 1.35 0 1 0 -2.7 0zM164.05 216.93a1.35 1.35 0 1 0 2.7 0a1.35 1.35 0 1 0 -2.7 0zM165.15 216.99a1.35 1.35 0 1 0 2.7 0a1.35 1.35 0 1 0 -2.7 0zM166.25 217.05a1.35 1.35 0 1 0 2.7 0a1.35 1.35 0 1 0 -2.7 0zM167.35 217.09a1.35 1.35 0 1 0 2.7 0a1.35 1.35 0 1 0 -2.7 0zM168.45 217.13a1.35 1.35 0 1 0 2.7 0a1.35 1.35 0 1 0 -2.7 0zM169.55 217.16a1.35 1.35 0 1 0 2.7 0a1.35 1.35 0 1 0 -2.7 0zM170.65 217.18a1.35 1.35 0 1 0 2.7 0a1.35 1.35 0 1 0 -2.7 0zM171.75 217.2a1.35 1.35 0 1 0 2.7 0a1.35 1.35 0 1 0 -2.7 0z" fill="none" stroke="#4a4ad8" stroke-width="0.85"/>
<path d="M74.6 144.5L75.1 144.59L75.6 144.68L76.1 144.78L76.6 144.88L77.1 144.99L77.6 145.1L78.1 145.21L78.6 145.32L79.1 145.44L79.6 145.56L80.1 145.69L80.6 145.82L81.1 145.95L81.6 146.08L82.1 146.22L82.6 146.35L83.1 146.5L83.6 146.64L84.1 146.79L84.6 146.94L85.1 147.09L85.6 147.25L86.1 147.4L86.6 147.56L87.1 147.72L87.6 147.89L88.1 148.05L88.6 148.22L89.1 148.39L89.6 148.57L90.1 148.74L90.6 148.92L91.1 149.09L91.6 149.27L92.1 149.46L92.6 149.64L93.1 149.82L93.6 150.01L94.1 150.2L94.6 150.39L95.1 150.58L95.6 150.77L96.1 150.96L96.6 151.15L97.1 151.35L97.6 151.55L98.1 151.74L98.6 151.94L99.1 152.14L99.6 152.34L100.1 152.54L100.6 152.75L101.1 152.96L101.6 153.18L102.1 153.41L102.6 153.65L103.1 153.89L103.6 154.14L104.1 154.39L104.6 154.65L105.1 154.91L105.6 155.18L106.1 155.44L106.6 155.71L107.1 155.98L107.6 156.25L108.1 156.52L108.6 156.79L109.1 157.06L109.6 157.34L110.1 157.62L110.6 157.9L111.1 158.18L111.6 158.47L112.1 158.77L112.6 159.06L113.1 159.36L113.6 159.65L114.1 159.95L114.6 160.25L115.1 160.55L115.6 160.85L116.1 161.15L116.6 161.45L117.1 161.75L117.6 162.04L118.1 162.33L118.6 162.63L119.1 162.92L119.6 163.21L120.1 163.5L120.6 163.79L121.1 164.08L121.6 164.37L122.1 164.66L122.6 164.95L123.1 165.24L123.6 165.54L124.1 165.84L124.6 166.14L125.1 166.44L125.6 166.74L126.1 167.05L126.6 167.36L127.1 167.68L127.6 167.99L128.1 168.3L128.6 168.62L129.1 168.94L129.6 169.26L130.1 169.58L130.6 169.91L131.1 170.24L131.6 170.57L132.1 170.9L132.6 171.24L133.1 171.58L133.6 171.92L134.1 172.27L134.6 172.63L135.1 172.98L135.6 173.34L136.1 173.71L136.6 174.07L137.1 174.44L137.6 174.81L138.1 175.18L138.6 175.56L139.1 175.94L139.6 176.33L140.1 176.74L140.6 177.15L141.1 177.57L141.6 178L142.1 178.45L142.6 178.91L143.1 179.38L143.6 179.86L144.1 180.35L144.6 180.85L145.1 181.37L145.6 181.9L146.1 182.46L146.6 183.05L147.1 183.66L147.6 184.31L148.1 184.98L148.6 185.7L149.1 186.45L149.6 187.26L150.1 188.12L150.6 189.06L151.1 190.08L151.6 191.22L152.1 192.46L152.6 193.87L153.1 195.57L153.6 197.56L154.1 199.85L154.6 202.45L155.1 205.75L155.6 209.81L156.1 215.97L156.6 217.68L157.1 218L157.6 218.16L174.8 218.2" fill="none" stroke="#14148c" stroke-width="1.5" stroke-opacity="1.0"/>
<line x1="155.6" y1="218.6" x2="174.2" y2="133.6" stroke="#111" stroke-width="1.4" />
<path d="M74.6 127.4H174.8V218.8H74.6Z" fill="none" stroke="#777" stroke-width="1.0"/>
<line x1="74.6" y1="218.8" x2="74.6" y2="215.8" stroke="#777" stroke-width="0.8" />
<line x1="92.29" y1="218.8" x2="92.29" y2="216.8" stroke="#777" stroke-width="0.8" />
<line x1="109.97" y1="218.8" x2="109.97" y2="215.8" stroke="#777" stroke-width="0.8" />
<line x1="127.66" y1="218.8" x2="127.66" y2="216.8" stroke="#777" stroke-width="0.8" />
<line x1="145.35" y1="218.8" x2="145.35" y2="215.8" stroke="#777" stroke-width="0.8" />
<line x1="163.04" y1="218.8" x2="163.04" y2="216.8" stroke="#777" stroke-width="0.8" />
<line x1="74.6" y1="218.8" x2="77.1" y2="218.8" stroke="#777" stroke-width="0.8" />
<line x1="174.8" y1="218.8" x2="172.3" y2="218.8" stroke="#777" stroke-width="0.8" />
<line x1="74.6" y1="200.52" x2="77.1" y2="200.52" stroke="#777" stroke-width="0.8" />
<line x1="174.8" y1="200.52" x2="172.3" y2="200.52" stroke="#777" stroke-width="0.8" />
<line x1="74.6" y1="182.24" x2="77.1" y2="182.24" stroke="#777" stroke-width="0.8" />
<line x1="174.8" y1="182.24" x2="172.3" y2="182.24" stroke="#777" stroke-width="0.8" />
<line x1="74.6" y1="163.96" x2="77.1" y2="163.96" stroke="#777" stroke-width="0.8" />
<line x1="174.8" y1="163.96" x2="172.3" y2="163.96" stroke="#777" stroke-width="0.8" />
<line x1="74.6" y1="145.68" x2="77.1" y2="145.68" stroke="#777" stroke-width="0.8" />
<line x1="174.8" y1="145.68" x2="172.3" y2="145.68" stroke="#777" stroke-width="0.8" />
<line x1="74.6" y1="127.4" x2="77.1" y2="127.4" stroke="#777" stroke-width="0.8" />
<line x1="174.8" y1="127.4" x2="172.3" y2="127.4" stroke="#777" stroke-width="0.8" />
<text x="71" y="221.6" font-size="10.5" text-anchor="end" font-weight="normal" fill="#222" stroke="#222" stroke-width="0.3" >0</text>
<text x="69.7" y="130.6" font-size="10.5" text-anchor="end" font-weight="normal" fill="#222" stroke="#222" stroke-width="0.3" >1</text>
<text x="177.8" y="221.2" font-size="10.5" text-anchor="start" font-weight="normal" fill="#222" stroke="#222" stroke-width="0.3" >0</text>
<text x="177.8" y="130.6" font-size="10.5" text-anchor="start" font-weight="normal" fill="#222" stroke="#222" stroke-width="0.3" >1</text>
<text x="75.2" y="229.4" font-size="10.4" text-anchor="middle" font-weight="normal" fill="#222" stroke="#222" stroke-width="0.3" >100</text>
<text x="110.57" y="229.4" font-size="10.4" text-anchor="middle" font-weight="normal" fill="#222" stroke="#222" stroke-width="0.3" >150</text>
<text x="145.95" y="229.4" font-size="10.4" text-anchor="middle" font-weight="normal" fill="#222" stroke="#222" stroke-width="0.3" >200</text>
<text x="125.2" y="237.2" font-size="10.5" text-anchor="middle" font-weight="normal" fill="#222" stroke="#222" stroke-width="0.3" >Temperature (K)</text>
<text x="123.8" y="137.2" font-size="9.8" text-anchor="middle" font-weight="normal" fill="#222" stroke="#222" stroke-width="0.3" >LSAT</text>
<path d="M83.8 164.2h1.6v1.6h-1.6z" fill="none" stroke="#8a8a8a" stroke-width="0.6"/>
<text x="96.5" y="168.2" font-size="10" text-anchor="start" font-weight="normal" fill="#222" stroke="#222" stroke-width="0.3" >exp.</text>
<path d="M83.5 178.3a1.1 1.1 0 1 0 2.2 0a1.1 1.1 0 1 0 -2.2 0z" fill="none" stroke="#5a5ae6" stroke-width="0.7"/>
<text x="97.8" y="181.4" font-size="10" text-anchor="start" font-weight="normal" fill="#222" stroke="#222" stroke-width="0.3" >exp.</text>
<line x1="75" y1="192.1" x2="94.6" y2="192.1" stroke="#111" stroke-width="1.5" />
<text x="97.5" y="194.6" font-size="10" text-anchor="start" font-weight="normal" fill="#222" stroke="#222" stroke-width="0.3" >fit</text>
<line x1="75" y1="204.7" x2="94.6" y2="204.7" stroke="#14148c" stroke-width="1.5" />
<text x="97.5" y="207.2" font-size="10" text-anchor="start" font-weight="normal" fill="#222" stroke="#222" stroke-width="0.3" >fit</text>
<line x1="126" y1="186.4" x2="141.3" y2="186.4" stroke="#3a3ad0" stroke-width="0.9" />
<path d="M124.3 186.4L128.5 184.6L128.5 188.2Z" fill="#3a3ad0"/>
<line x1="155.8" y1="141.2" x2="166" y2="141.2" stroke="#888" stroke-width="0.8" />
<path d="M168.4 141.2L164.4 139.6L164.4 142.8Z" fill="#888"/>
<text transform="translate(63.6,175.6) rotate(-90)" font-size="10.2" text-anchor="middle" fill="#222"><tspan font-style="italic">M</tspan>(<tspan font-style="italic">T</tspan>)/<tspan font-style="italic">M</tspan>(10 K)</text>
<text transform="translate(183.2,173.6) rotate(90)" font-size="10.2" text-anchor="middle" fill="#222"><tspan font-style="italic">χ</tspan>(250 K)/<tspan font-style="italic">χ</tspan>(<tspan font-style="italic">T</tspan>)</text>
<line x1="403.5" y1="240.5" x2="403.5" y2="245.5" stroke="#2a2a2a" stroke-width="1.1" />
<text x="403.5" y="260.2" font-size="11" text-anchor="middle" font-weight="normal" fill="#222" stroke="#222" stroke-width="0.3" >0</text>
<line x1="426.32" y1="240.5" x2="426.32" y2="243.5" stroke="#2a2a2a" stroke-width="1.1" />
<line x1="449.13" y1="240.5" x2="449.13" y2="245.5" stroke="#2a2a2a" stroke-width="1.1" />
<text x="449.13" y="260.2" font-size="11" text-anchor="middle" font-weight="normal" fill="#222" stroke="#222" stroke-width="0.3" >50</text>
<line x1="471.95" y1="240.5" x2="471.95" y2="243.5" stroke="#2a2a2a" stroke-width="1.1" />
<line x1="494.77" y1="240.5" x2="494.77" y2="245.5" stroke="#2a2a2a" stroke-width="1.1" />
<text x="494.77" y="260.2" font-size="11" text-anchor="middle" font-weight="normal" fill="#222" stroke="#222" stroke-width="0.3" >100</text>
<line x1="517.58" y1="240.5" x2="517.58" y2="243.5" stroke="#2a2a2a" stroke-width="1.1" />
<line x1="540.4" y1="240.5" x2="540.4" y2="245.5" stroke="#2a2a2a" stroke-width="1.1" />
<text x="540.4" y="260.2" font-size="11" text-anchor="middle" font-weight="normal" fill="#222" stroke="#222" stroke-width="0.3" >150</text>
<line x1="563.22" y1="240.5" x2="563.22" y2="243.5" stroke="#2a2a2a" stroke-width="1.1" />
<line x1="586.03" y1="240.5" x2="586.03" y2="245.5" stroke="#2a2a2a" stroke-width="1.1" />
<text x="586.03" y="260.2" font-size="11" text-anchor="middle" font-weight="normal" fill="#222" stroke="#222" stroke-width="0.3" >200</text>
<line x1="608.85" y1="240.5" x2="608.85" y2="243.5" stroke="#2a2a2a" stroke-width="1.1" />
<line x1="631.67" y1="240.5" x2="631.67" y2="245.5" stroke="#2a2a2a" stroke-width="1.1" />
<text x="631.67" y="260.2" font-size="11" text-anchor="middle" font-weight="normal" fill="#222" stroke="#222" stroke-width="0.3" >250</text>
<line x1="654.48" y1="240.5" x2="654.48" y2="243.5" stroke="#2a2a2a" stroke-width="1.1" />
<line x1="677.3" y1="240.5" x2="677.3" y2="245.5" stroke="#2a2a2a" stroke-width="1.1" />
<text x="677.3" y="260.2" font-size="11" text-anchor="middle" font-weight="normal" fill="#222" stroke="#222" stroke-width="0.3" >300</text>
<line x1="399" y1="240.5" x2="403.5" y2="240.5" stroke="#2a2a2a" stroke-width="1.1" />
<text x="392.2" y="244.4" font-size="11" text-anchor="end" font-weight="normal" fill="#222" stroke="#222" stroke-width="0.3" >0.0</text>
<line x1="401" y1="217.88" x2="403.5" y2="217.88" stroke="#2a2a2a" stroke-width="1.1" />
<line x1="399" y1="195.26" x2="403.5" y2="195.26" stroke="#2a2a2a" stroke-width="1.1" />
<text x="392.2" y="199.16" font-size="11" text-anchor="end" font-weight="normal" fill="#222" stroke="#222" stroke-width="0.3" >0.2</text>
<line x1="401" y1="172.64" x2="403.5" y2="172.64" stroke="#2a2a2a" stroke-width="1.1" />
<line x1="399" y1="150.02" x2="403.5" y2="150.02" stroke="#2a2a2a" stroke-width="1.1" />
<text x="392.2" y="153.92" font-size="11" text-anchor="end" font-weight="normal" fill="#222" stroke="#222" stroke-width="0.3" >0.4</text>
<line x1="401" y1="127.4" x2="403.5" y2="127.4" stroke="#2a2a2a" stroke-width="1.1" />
<line x1="399" y1="104.78" x2="403.5" y2="104.78" stroke="#2a2a2a" stroke-width="1.1" />
<text x="392.2" y="108.68" font-size="11" text-anchor="end" font-weight="normal" fill="#222" stroke="#222" stroke-width="0.3" >0.6</text>
<line x1="401" y1="82.16" x2="403.5" y2="82.16" stroke="#2a2a2a" stroke-width="1.1" />
<line x1="399" y1="59.54" x2="403.5" y2="59.54" stroke="#2a2a2a" stroke-width="1.1" />
<text x="392.2" y="63.44" font-size="11" text-anchor="end" font-weight="normal" fill="#222" stroke="#222" stroke-width="0.3" >0.8</text>
<line x1="401" y1="36.92" x2="403.5" y2="36.92" stroke="#2a2a2a" stroke-width="1.1" />
<line x1="399" y1="14.3" x2="403.5" y2="14.3" stroke="#2a2a2a" stroke-width="1.1" />
<text x="392.2" y="18.2" font-size="11" text-anchor="end" font-weight="normal" fill="#222" stroke="#222" stroke-width="0.3" >1.0</text>
<text x="353.3" y="13.8" font-size="16" text-anchor="start" font-weight="bold" fill="#000" stroke="#000" stroke-width="0.3" >b</text>
<text x="540.4" y="279" font-size="11.9" text-anchor="middle" font-weight="normal" fill="#222" stroke="#222" stroke-width="0.3" >Temperature (K)</text>
<text transform="translate(364.6,126.7) rotate(-90)" font-size="11.5" text-anchor="middle" fill="#222"><tspan font-style="italic">M</tspan>(<tspan font-style="italic">T</tspan>)/<tspan font-style="italic">M</tspan>(17 K)</text>
<text x="525.8" y="26" font-size="12.8" text-anchor="start" font-weight="bold" fill="#111" stroke="#111" stroke-width="0.3" letter-spacing="0.2">(001)</text>
<text x="598.6" y="27.8" font-size="11.7" text-anchor="start" font-weight="normal" fill="#222" stroke="#222" stroke-width="0.3" >FC at 200 Oe</text>
<clipPath id="cb"><rect x="403.5" y="9.5" width="273.79999999999995" height="231.0"/></clipPath><g clip-path="url(#cb)">
<path d="M411.71 11.36L415.36 13.1L419.02 14.54L422.67 15.57L426.32 16.75L429.97 18.84L433.62 21.35L437.27 23.75L440.92 26.79L444.57 29.76L448.22 32.24L451.87 35.98L455.52 39.74L459.17 43.84L462.82 48.73L466.47 53.56L470.12 58.94L473.78 64.82L477.43 71.01L481.08 76.89L484.73 83.85L488.38 90.36L492.03 98.06L495.68 104.96L499.33 112.67L502.98 121.15L506.63 129.71L510.28 138.42L513.93 146.72L517.58 154.76L521.23 163.11L524.88 171.99L528.54 179.96L532.19 188.25L535.84 195.64L539.49 203.77L543.14 210.35L546.79 216.47L550.44 222.29L554.09 226.13L557.74 229.05L561.39 231.94L565.04 233.72L568.69 234.93L572.34 236.15L575.99 237.36L579.64 238.39L583.3 238.98L584.21 239.09L585.12 239.19L586.03 239.29L586.95 239.37L587.86 239.45L588.77 239.52L589.68 239.58L590.6 239.63L591.51 239.69L592.42 239.74L593.33 239.78L594.25 239.83L595.16 239.87L596.07 239.91L596.99 239.94L597.9 239.96L598.81 239.98L599.72 240L600.64 240.01L601.55 240.01L602.46 240.02L603.37 240.03L604.29 240.04L605.2 240.04L606.11 240.05L607.02 240.06L607.94 240.07L608.85 240.07L609.76 240.08L610.68 240.09L611.59 240.09L612.5 240.1L613.41 240.11L614.33 240.11L615.24 240.12L616.15 240.12L617.06 240.13L617.98 240.14L618.89 240.14L619.8 240.15L620.71 240.15L621.63 240.16L622.54 240.16L623.45 240.17L624.37 240.17L625.28 240.18L626.19 240.18L627.1 240.19L628.02 240.19L628.93 240.2L629.84 240.2L630.75 240.21L634.4 240.22L638.06 240.24L641.71 240.25L645.36 240.26L649.01 240.27L652.66 240.28L656.31 240.28L659.96 240.29L663.61 240.29L667.26 240.3L670.91 240.3L674.56 240.3L678.21 240.3" fill="none" stroke="#5a5ae0" stroke-width="0.5" stroke-opacity="1.0"/>
<path d="M409.96 11.36a1.75 1.75 0 1 0 3.5 0a1.75 1.75 0 1 0 -3.5 0zM413.61 13.1a1.75 1.75 0 1 0 3.5 0a1.75 1.75 0 1 0 -3.5 0zM417.27 14.54a1.75 1.75 0 1 0 3.5 0a1.75 1.75 0 1 0 -3.5 0zM420.92 15.57a1.75 1.75 0 1 0 3.5 0a1.75 1.75 0 1 0 -3.5 0zM424.57 16.75a1.75 1.75 0 1 0 3.5 0a1.75 1.75 0 1 0 -3.5 0zM428.22 18.84a1.75 1.75 0 1 0 3.5 0a1.75 1.75 0 1 0 -3.5 0zM431.87 21.35a1.75 1.75 0 1 0 3.5 0a1.75 1.75 0 1 0 -3.5 0zM435.52 23.75a1.75 1.75 0 1 0 3.5 0a1.75 1.75 0 1 0 -3.5 0zM439.17 26.79a1.75 1.75 0 1 0 3.5 0a1.75 1.75 0 1 0 -3.5 0zM442.82 29.76a1.75 1.75 0 1 0 3.5 0a1.75 1.75 0 1 0 -3.5 0zM446.47 32.24a1.75 1.75 0 1 0 3.5 0a1.75 1.75 0 1 0 -3.5 0zM450.12 35.98a1.75 1.75 0 1 0 3.5 0a1.75 1.75 0 1 0 -3.5 0zM453.77 39.74a1.75 1.75 0 1 0 3.5 0a1.75 1.75 0 1 0 -3.5 0zM457.42 43.84a1.75 1.75 0 1 0 3.5 0a1.75 1.75 0 1 0 -3.5 0zM461.07 48.73a1.75 1.75 0 1 0 3.5 0a1.75 1.75 0 1 0 -3.5 0zM464.72 53.56a1.75 1.75 0 1 0 3.5 0a1.75 1.75 0 1 0 -3.5 0zM468.37 58.94a1.75 1.75 0 1 0 3.5 0a1.75 1.75 0 1 0 -3.5 0zM472.03 64.82a1.75 1.75 0 1 0 3.5 0a1.75 1.75 0 1 0 -3.5 0zM475.68 71.01a1.75 1.75 0 1 0 3.5 0a1.75 1.75 0 1 0 -3.5 0zM479.33 76.89a1.75 1.75 0 1 0 3.5 0a1.75 1.75 0 1 0 -3.5 0zM482.98 83.85a1.75 1.75 0 1 0 3.5 0a1.75 1.75 0 1 0 -3.5 0zM486.63 90.36a1.75 1.75 0 1 0 3.5 0a1.75 1.75 0 1 0 -3.5 0zM490.28 98.06a1.75 1.75 0 1 0 3.5 0a1.75 1.75 0 1 0 -3.5 0zM493.93 104.96a1.75 1.75 0 1 0 3.5 0a1.75 1.75 0 1 0 -3.5 0zM497.58 112.67a1.75 1.75 0 1 0 3.5 0a1.75 1.75 0 1 0 -3.5 0zM501.23 121.15a1.75 1.75 0 1 0 3.5 0a1.75 1.75 0 1 0 -3.5 0zM504.88 129.71a1.75 1.75 0 1 0 3.5 0a1.75 1.75 0 1 0 -3.5 0zM508.53 138.42a1.75 1.75 0 1 0 3.5 0a1.75 1.75 0 1 0 -3.5 0zM512.18 146.72a1.75 1.75 0 1 0 3.5 0a1.75 1.75 0 1 0 -3.5 0zM515.83 154.76a1.75 1.75 0 1 0 3.5 0a1.75 1.75 0 1 0 -3.5 0zM519.48 163.11a1.75 1.75 0 1 0 3.5 0a1.75 1.75 0 1 0 -3.5 0zM523.13 171.99a1.75 1.75 0 1 0 3.5 0a1.75 1.75 0 1 0 -3.5 0zM526.79 179.96a1.75 1.75 0 1 0 3.5 0a1.75 1.75 0 1 0 -3.5 0zM530.44 188.25a1.75 1.75 0 1 0 3.5 0a1.75 1.75 0 1 0 -3.5 0zM534.09 195.64a1.75 1.75 0 1 0 3.5 0a1.75 1.75 0 1 0 -3.5 0zM537.74 203.77a1.75 1.75 0 1 0 3.5 0a1.75 1.75 0 1 0 -3.5 0zM541.39 210.35a1.75 1.75 0 1 0 3.5 0a1.75 1.75 0 1 0 -3.5 0zM545.04 216.47a1.75 1.75 0 1 0 3.5 0a1.75 1.75 0 1 0 -3.5 0zM548.69 222.29a1.75 1.75 0 1 0 3.5 0a1.75 1.75 0 1 0 -3.5 0zM552.34 226.13a1.75 1.75 0 1 0 3.5 0a1.75 1.75 0 1 0 -3.5 0zM555.99 229.05a1.75 1.75 0 1 0 3.5 0a1.75 1.75 0 1 0 -3.5 0zM559.64 231.94a1.75 1.75 0 1 0 3.5 0a1.75 1.75 0 1 0 -3.5 0zM563.29 233.72a1.75 1.75 0 1 0 3.5 0a1.75 1.75 0 1 0 -3.5 0zM566.94 234.93a1.75 1.75 0 1 0 3.5 0a1.75 1.75 0 1 0 -3.5 0zM570.59 236.15a1.75 1.75 0 1 0 3.5 0a1.75 1.75 0 1 0 -3.5 0zM574.24 237.36a1.75 1.75 0 1 0 3.5 0a1.75 1.75 0 1 0 -3.5 0zM577.89 238.39a1.75 1.75 0 1 0 3.5 0a1.75 1.75 0 1 0 -3.5 0zM581.55 238.98a1.75 1.75 0 1 0 3.5 0a1.75 1.75 0 1 0 -3.5 0zM582.46 239.09a1.75 1.75 0 1 0 3.5 0a1.75 1.75 0 1 0 -3.5 0zM583.37 239.19a1.75 1.75 0 1 0 3.5 0a1.75 1.75 0 1 0 -3.5 0zM584.28 239.29a1.75 1.75 0 1 0 3.5 0a1.75 1.75 0 1 0 -3.5 0zM585.2 239.37a1.75 1.75 0 1 0 3.5 0a1.75 1.75 0 1 0 -3.5 0zM586.11 239.45a1.75 1.75 0 1 0 3.5 0a1.75 1.75 0 1 0 -3.5 0zM587.02 239.52a1.75 1.75 0 1 0 3.5 0a1.75 1.75 0 1 0 -3.5 0zM587.93 239.58a1.75 1.75 0 1 0 3.5 0a1.75 1.75 0 1 0 -3.5 0zM588.85 239.63a1.75 1.75 0 1 0 3.5 0a1.75 1.75 0 1 0 -3.5 0zM589.76 239.69a1.75 1.75 0 1 0 3.5 0a1.75 1.75 0 1 0 -3.5 0zM590.67 239.74a1.75 1.75 0 1 0 3.5 0a1.75 1.75 0 1 0 -3.5 0zM591.58 239.78a1.75 1.75 0 1 0 3.5 0a1.75 1.75 0 1 0 -3.5 0zM592.5 239.83a1.75 1.75 0 1 0 3.5 0a1.75 1.75 0 1 0 -3.5 0zM593.41 239.87a1.75 1.75 0 1 0 3.5 0a1.75 1.75 0 1 0 -3.5 0zM594.32 239.91a1.75 1.75 0 1 0 3.5 0a1.75 1.75 0 1 0 -3.5 0zM595.24 239.94a1.75 1.75 0 1 0 3.5 0a1.75 1.75 0 1 0 -3.5 0zM596.15 239.96a1.75 1.75 0 1 0 3.5 0a1.75 1.75 0 1 0 -3.5 0zM597.06 239.98a1.75 1.75 0 1 0 3.5 0a1.75 1.75 0 1 0 -3.5 0zM597.97 240a1.75 1.75 0 1 0 3.5 0a1.75 1.75 0 1 0 -3.5 0zM598.89 240.01a1.75 1.75 0 1 0 3.5 0a1.75 1.75 0 1 0 -3.5 0zM599.8 240.01a1.75 1.75 0 1 0 3.5 0a1.75 1.75 0 1 0 -3.5 0zM600.71 240.02a1.75 1.75 0 1 0 3.5 0a1.75 1.75 0 1 0 -3.5 0zM601.62 240.03a1.75 1.75 0 1 0 3.5 0a1.75 1.75 0 1 0 -3.5 0zM602.54 240.04a1.75 1.75 0 1 0 3.5 0a1.75 1.75 0 1 0 -3.5 0zM603.45 240.04a1.75 1.75 0 1 0 3.5 0a1.75 1.75 0 1 0 -3.5 0zM604.36 240.05a1.75 1.75 0 1 0 3.5 0a1.75 1.75 0 1 0 -3.5 0zM605.27 240.06a1.75 1.75 0 1 0 3.5 0a1.75 1.75 0 1 0 -3.5 0zM606.19 240.07a1.75 1.75 0 1 0 3.5 0a1.75 1.75 0 1 0 -3.5 0zM607.1 240.07a1.75 1.75 0 1 0 3.5 0a1.75 1.75 0 1 0 -3.5 0zM608.01 240.08a1.75 1.75 0 1 0 3.5 0a1.75 1.75 0 1 0 -3.5 0zM608.93 240.09a1.75 1.75 0 1 0 3.5 0a1.75 1.75 0 1 0 -3.5 0zM609.84 240.09a1.75 1.75 0 1 0 3.5 0a1.75 1.75 0 1 0 -3.5 0zM610.75 240.1a1.75 1.75 0 1 0 3.5 0a1.75 1.75 0 1 0 -3.5 0zM611.66 240.11a1.75 1.75 0 1 0 3.5 0a1.75 1.75 0 1 0 -3.5 0zM612.58 240.11a1.75 1.75 0 1 0 3.5 0a1.75 1.75 0 1 0 -3.5 0zM613.49 240.12a1.75 1.75 0 1 0 3.5 0a1.75 1.75 0 1 0 -3.5 0zM614.4 240.12a1.75 1.75 0 1 0 3.5 0a1.75 1.75 0 1 0 -3.5 0zM615.31 240.13a1.75 1.75 0 1 0 3.5 0a1.75 1.75 0 1 0 -3.5 0zM616.23 240.14a1.75 1.75 0 1 0 3.5 0a1.75 1.75 0 1 0 -3.5 0zM617.14 240.14a1.75 1.75 0 1 0 3.5 0a1.75 1.75 0 1 0 -3.5 0zM618.05 240.15a1.75 1.75 0 1 0 3.5 0a1.75 1.75 0 1 0 -3.5 0zM618.96 240.15a1.75 1.75 0 1 0 3.5 0a1.75 1.75 0 1 0 -3.5 0zM619.88 240.16a1.75 1.75 0 1 0 3.5 0a1.75 1.75 0 1 0 -3.5 0zM620.79 240.16a1.75 1.75 0 1 0 3.5 0a1.75 1.75 0 1 0 -3.5 0zM621.7 240.17a1.75 1.75 0 1 0 3.5 0a1.75 1.75 0 1 0 -3.5 0zM622.62 240.17a1.75 1.75 0 1 0 3.5 0a1.75 1.75 0 1 0 -3.5 0zM623.53 240.18a1.75 1.75 0 1 0 3.5 0a1.75 1.75 0 1 0 -3.5 0zM624.44 240.18a1.75 1.75 0 1 0 3.5 0a1.75 1.75 0 1 0 -3.5 0zM625.35 240.19a1.75 1.75 0 1 0 3.5 0a1.75 1.75 0 1 0 -3.5 0zM626.27 240.19a1.75 1.75 0 1 0 3.5 0a1.75 1.75 0 1 0 -3.5 0zM627.18 240.2a1.75 1.75 0 1 0 3.5 0a1.75 1.75 0 1 0 -3.5 0zM628.09 240.2a1.75 1.75 0 1 0 3.5 0a1.75 1.75 0 1 0 -3.5 0zM629 240.21a1.75 1.75 0 1 0 3.5 0a1.75 1.75 0 1 0 -3.5 0zM632.65 240.22a1.75 1.75 0 1 0 3.5 0a1.75 1.75 0 1 0 -3.5 0zM636.31 240.24a1.75 1.75 0 1 0 3.5 0a1.75 1.75 0 1 0 -3.5 0zM639.96 240.25a1.75 1.75 0 1 0 3.5 0a1.75 1.75 0 1 0 -3.5 0zM643.61 240.26a1.75 1.75 0 1 0 3.5 0a1.75 1.75 0 1 0 -3.5 0zM647.26 240.27a1.75 1.75 0 1 0 3.5 0a1.75 1.75 0 1 0 -3.5 0zM650.91 240.28a1.75 1.75 0 1 0 3.5 0a1.75 1.75 0 1 0 -3.5 0zM654.56 240.28a1.75 1.75 0 1 0 3.5 0a1.75 1.75 0 1 0 -3.5 0zM658.21 240.29a1.75 1.75 0 1 0 3.5 0a1.75 1.75 0 1 0 -3.5 0zM661.86 240.29a1.75 1.75 0 1 0 3.5 0a1.75 1.75 0 1 0 -3.5 0zM665.51 240.3a1.75 1.75 0 1 0 3.5 0a1.75 1.75 0 1 0 -3.5 0zM669.16 240.3a1.75 1.75 0 1 0 3.5 0a1.75 1.75 0 1 0 -3.5 0zM672.81 240.3a1.75 1.75 0 1 0 3.5 0a1.75 1.75 0 1 0 -3.5 0zM676.46 240.3a1.75 1.75 0 1 0 3.5 0a1.75 1.75 0 1 0 -3.5 0z" fill="none" stroke="#1c1cd0" stroke-width="1.0"/>
<path d="M411.71 11.36L415.36 13.1L419.02 14.54L422.67 15.57L426.32 16.75L429.97 18.84L433.62 21.35L437.27 23.75L440.92 26.74L444.57 30.16L448.22 34.14L451.87 39.11L455.52 44L459.17 48.43L462.82 53.73L466.47 59.33L470.12 65.15L473.78 71.73L477.43 77.99L481.08 84.59L484.73 91.25L488.38 99.34L492.03 109.55L495.68 118.93L499.33 129.48L502.98 141.23L506.63 155.84L510.28 170.73L513.93 181.84L517.58 191.69L521.23 198.62L524.88 204.69L528.54 210.21L532.19 214.19L535.84 217.26L539.49 219.29L543.14 221.06L546.79 223.24L550.44 223.77L554.09 225.05L557.74 226.28L561.39 227.54L565.04 228.21L568.69 228.92L572.34 229.51L575.99 230.24L579.64 230.85L583.3 231.38L584.21 231.52L585.12 231.65L586.03 231.77L586.95 231.89L587.86 232L588.77 232.1L589.68 232.18L590.6 232.24L591.51 232.31L592.42 232.37L593.33 232.42L594.25 232.48L595.16 232.53L596.07 232.57L596.99 232.61L597.9 232.64L598.81 232.67L599.72 232.69L600.64 232.71L601.55 232.73L602.46 232.74L603.37 232.75L604.29 232.77L605.2 232.78L606.11 232.79L607.02 232.8L607.94 232.81L608.85 232.82L609.76 232.83L610.68 232.84L611.59 232.85L612.5 232.85L613.41 232.86L614.33 232.87L615.24 232.88L616.15 232.88L617.06 232.89L617.98 232.89L618.89 232.9L619.8 232.91L620.71 232.91L621.63 232.92L622.54 232.92L623.45 232.93L624.37 232.94L625.28 232.94L626.19 232.95L627.1 232.96L628.02 232.96L628.93 232.97L629.84 232.98L630.75 232.99L634.4 233.02L638.06 233.06L641.71 233.1L645.36 233.14L649.01 233.18L652.66 233.22L656.31 233.26L659.96 233.3L663.61 233.34L667.26 233.38L670.91 233.43L674.56 233.47L678.21 233.51" fill="none" stroke="#4a9a4a" stroke-width="0.5" stroke-opacity="1.0"/>
<path d="M411.71 9.2L413.96 12.8L409.46 12.8zM415.36 10.94L417.61 14.54L413.11 14.54zM419.02 12.38L421.27 15.98L416.77 15.98zM422.67 13.41L424.92 17.01L420.42 17.01zM426.32 14.59L428.57 18.19L424.07 18.19zM429.97 16.68L432.22 20.28L427.72 20.28zM433.62 19.19L435.87 22.79L431.37 22.79zM437.27 21.59L439.52 25.19L435.02 25.19zM440.92 24.58L443.17 28.18L438.67 28.18zM444.57 28L446.82 31.6L442.32 31.6zM448.22 31.98L450.47 35.58L445.97 35.58zM451.87 36.95L454.12 40.55L449.62 40.55zM455.52 41.84L457.77 45.44L453.27 45.44zM459.17 46.27L461.42 49.87L456.92 49.87zM462.82 51.57L465.07 55.17L460.57 55.17zM466.47 57.17L468.72 60.77L464.22 60.77zM470.12 62.99L472.37 66.59L467.87 66.59zM473.78 69.57L476.03 73.17L471.53 73.17zM477.43 75.83L479.68 79.43L475.18 79.43zM481.08 82.43L483.33 86.03L478.83 86.03zM484.73 89.09L486.98 92.69L482.48 92.69zM488.38 97.18L490.63 100.78L486.13 100.78zM492.03 107.39L494.28 110.99L489.78 110.99zM495.68 116.77L497.93 120.37L493.43 120.37zM499.33 127.32L501.58 130.92L497.08 130.92zM502.98 139.07L505.23 142.67L500.73 142.67zM506.63 153.68L508.88 157.28L504.38 157.28zM510.28 168.57L512.53 172.17L508.03 172.17zM513.93 179.68L516.18 183.28L511.68 183.28zM517.58 189.53L519.83 193.13L515.33 193.13zM521.23 196.46L523.48 200.06L518.98 200.06zM524.88 202.53L527.13 206.13L522.63 206.13zM528.54 208.05L530.79 211.65L526.29 211.65zM532.19 212.03L534.44 215.63L529.94 215.63zM535.84 215.1L538.09 218.7L533.59 218.7zM539.49 217.13L541.74 220.73L537.24 220.73zM543.14 218.9L545.39 222.5L540.89 222.5zM546.79 221.08L549.04 224.68L544.54 224.68zM550.44 221.61L552.69 225.21L548.19 225.21zM554.09 222.89L556.34 226.49L551.84 226.49zM557.74 224.12L559.99 227.72L555.49 227.72zM561.39 225.38L563.64 228.98L559.14 228.98zM565.04 226.05L567.29 229.65L562.79 229.65zM568.69 226.76L570.94 230.36L566.44 230.36zM572.34 227.35L574.59 230.95L570.09 230.95zM575.99 228.08L578.24 231.68L573.74 231.68zM579.64 228.69L581.89 232.29L577.39 232.29zM583.3 229.22L585.55 232.82L581.05 232.82zM584.21 229.36L586.46 232.96L581.96 232.96zM585.12 229.49L587.37 233.09L582.87 233.09zM586.03 229.61L588.28 233.21L583.78 233.21zM586.95 229.73L589.2 233.33L584.7 233.33zM587.86 229.84L590.11 233.44L585.61 233.44zM588.77 229.94L591.02 233.54L586.52 233.54zM589.68 230.02L591.93 233.62L587.43 233.62zM590.6 230.08L592.85 233.68L588.35 233.68zM591.51 230.15L593.76 233.75L589.26 233.75zM592.42 230.21L594.67 233.81L590.17 233.81zM593.33 230.26L595.58 233.86L591.08 233.86zM594.25 230.32L596.5 233.92L592 233.92zM595.16 230.37L597.41 233.97L592.91 233.97zM596.07 230.41L598.32 234.01L593.82 234.01zM596.99 230.45L599.24 234.05L594.74 234.05zM597.9 230.48L600.15 234.08L595.65 234.08zM598.81 230.51L601.06 234.11L596.56 234.11zM599.72 230.53L601.97 234.13L597.47 234.13zM600.64 230.55L602.89 234.15L598.39 234.15zM601.55 230.57L603.8 234.17L599.3 234.17zM602.46 230.58L604.71 234.18L600.21 234.18zM603.37 230.59L605.62 234.19L601.12 234.19zM604.29 230.61L606.54 234.21L602.04 234.21zM605.2 230.62L607.45 234.22L602.95 234.22zM606.11 230.63L608.36 234.23L603.86 234.23zM607.02 230.64L609.27 234.24L604.77 234.24zM607.94 230.65L610.19 234.25L605.69 234.25zM608.85 230.66L611.1 234.26L606.6 234.26zM609.76 230.67L612.01 234.27L607.51 234.27zM610.68 230.68L612.93 234.28L608.43 234.28zM611.59 230.69L613.84 234.29L609.34 234.29zM612.5 230.69L614.75 234.29L610.25 234.29zM613.41 230.7L615.66 234.3L611.16 234.3zM614.33 230.71L616.58 234.31L612.08 234.31zM615.24 230.72L617.49 234.32L612.99 234.32zM616.15 230.72L618.4 234.32L613.9 234.32zM617.06 230.73L619.31 234.33L614.81 234.33zM617.98 230.73L620.23 234.33L615.73 234.33zM618.89 230.74L621.14 234.34L616.64 234.34zM619.8 230.75L622.05 234.35L617.55 234.35zM620.71 230.75L622.96 234.35L618.46 234.35zM621.63 230.76L623.88 234.36L619.38 234.36zM622.54 230.76L624.79 234.36L620.29 234.36zM623.45 230.77L625.7 234.37L621.2 234.37zM624.37 230.78L626.62 234.38L622.12 234.38zM625.28 230.78L627.53 234.38L623.03 234.38zM626.19 230.79L628.44 234.39L623.94 234.39zM627.1 230.8L629.35 234.4L624.85 234.4zM628.02 230.8L630.27 234.4L625.77 234.4zM628.93 230.81L631.18 234.41L626.68 234.41zM629.84 230.82L632.09 234.42L627.59 234.42zM630.75 230.83L633 234.43L628.5 234.43zM634.4 230.86L636.65 234.46L632.15 234.46zM638.06 230.9L640.31 234.5L635.81 234.5zM641.71 230.94L643.96 234.54L639.46 234.54zM645.36 230.98L647.61 234.58L643.11 234.58zM649.01 231.02L651.26 234.62L646.76 234.62zM652.66 231.06L654.91 234.66L650.41 234.66zM656.31 231.1L658.56 234.7L654.06 234.7zM659.96 231.14L662.21 234.74L657.71 234.74zM663.61 231.18L665.86 234.78L661.36 234.78zM667.26 231.22L669.51 234.82L665.01 234.82zM670.91 231.27L673.16 234.87L668.66 234.87zM674.56 231.31L676.81 234.91L672.31 234.91zM678.21 231.35L680.46 234.95L675.96 234.95z" fill="none" stroke="#1e801a" stroke-width="1.0"/>
</g>
<path d="M403.5 9.5H677.3V240.5H403.5Z" fill="none" stroke="#222" stroke-width="1.35"/>
<line x1="409.9" y1="189.8" x2="419" y2="189.8" stroke="#6a6ae0" stroke-width="1.0" />
<line x1="427" y1="189.8" x2="436.1" y2="189.8" stroke="#6a6ae0" stroke-width="1.0" />
<path d="M421.4 189.8a1.6 1.6 0 1 0 3.2 0a1.6 1.6 0 1 0 -3.2 0z" fill="none" stroke="#1c1cd0" stroke-width="1.0"/>
<text x="443.9" y="193.9" font-size="11.7" text-anchor="start" font-weight="normal" fill="#222" stroke="#222" stroke-width="0.3" >LSAT</text>
<line x1="409.9" y1="204.5" x2="419" y2="204.5" stroke="#5aa55a" stroke-width="1.0" />
<line x1="427" y1="204.5" x2="436.1" y2="204.5" stroke="#5aa55a" stroke-width="1.0" />
<path d="M423 202.23L425.1 206.01L420.9 206.01z" fill="none" stroke="#1e801a" stroke-width="1.0"/>
<text x="443.9" y="208.6" font-size="11.7" text-anchor="start" font-weight="normal" fill="#222" stroke="#222" stroke-width="0.3" >SrTiO</text>
<text x="474.7" y="213.5" font-size="6.4" fill="#222" stroke="#222" stroke-width="0.2">3</text>
<line x1="65.44" y1="512.8" x2="65.44" y2="517.8" stroke="#2a2a2a" stroke-width="1.1" />
<line x1="65.44" y1="311.5" x2="65.44" y2="315.5" stroke="#2a2a2a" stroke-width="1.1" />
<text x="64.64" y="533.6" font-size="11" text-anchor="middle" font-weight="normal" fill="#222" stroke="#222" stroke-width="0.3" >-4</text>
<line x1="80.63" y1="512.8" x2="80.63" y2="515.8" stroke="#2a2a2a" stroke-width="1.1" />
<line x1="80.63" y1="311.5" x2="80.63" y2="313.5" stroke="#2a2a2a" stroke-width="1.1" />
<line x1="95.83" y1="512.8" x2="95.83" y2="517.8" stroke="#2a2a2a" stroke-width="1.1" />
<line x1="95.83" y1="311.5" x2="95.83" y2="315.5" stroke="#2a2a2a" stroke-width="1.1" />
<text x="95.03" y="533.6" font-size="11" text-anchor="middle" font-weight="normal" fill="#222" stroke="#222" stroke-width="0.3" >-3</text>
<line x1="111.03" y1="512.8" x2="111.03" y2="515.8" stroke="#2a2a2a" stroke-width="1.1" />
<line x1="111.03" y1="311.5" x2="111.03" y2="313.5" stroke="#2a2a2a" stroke-width="1.1" />
<line x1="126.22" y1="512.8" x2="126.22" y2="517.8" stroke="#2a2a2a" stroke-width="1.1" />
<line x1="126.22" y1="311.5" x2="126.22" y2="315.5" stroke="#2a2a2a" stroke-width="1.1" />
<text x="125.42" y="533.6" font-size="11" text-anchor="middle" font-weight="normal" fill="#222" stroke="#222" stroke-width="0.3" >-2</text>
<line x1="141.41" y1="512.8" x2="141.41" y2="515.8" stroke="#2a2a2a" stroke-width="1.1" />
<line x1="141.41" y1="311.5" x2="141.41" y2="313.5" stroke="#2a2a2a" stroke-width="1.1" />
<line x1="156.61" y1="512.8" x2="156.61" y2="517.8" stroke="#2a2a2a" stroke-width="1.1" />
<line x1="156.61" y1="311.5" x2="156.61" y2="315.5" stroke="#2a2a2a" stroke-width="1.1" />
<text x="155.81" y="533.6" font-size="11" text-anchor="middle" font-weight="normal" fill="#222" stroke="#222" stroke-width="0.3" >-1</text>
<line x1="171.81" y1="512.8" x2="171.81" y2="515.8" stroke="#2a2a2a" stroke-width="1.1" />
<line x1="171.81" y1="311.5" x2="171.81" y2="313.5" stroke="#2a2a2a" stroke-width="1.1" />
<line x1="187" y1="512.8" x2="187" y2="517.8" stroke="#2a2a2a" stroke-width="1.1" />
<line x1="187" y1="311.5" x2="187" y2="315.5" stroke="#2a2a2a" stroke-width="1.1" />
<text x="187" y="533.6" font-size="11" text-anchor="middle" font-weight="normal" fill="#222" stroke="#222" stroke-width="0.3" >0</text>
<line x1="202.19" y1="512.8" x2="202.19" y2="515.8" stroke="#2a2a2a" stroke-width="1.1" />
<line x1="202.19" y1="311.5" x2="202.19" y2="313.5" stroke="#2a2a2a" stroke-width="1.1" />
<line x1="217.39" y1="512.8" x2="217.39" y2="517.8" stroke="#2a2a2a" stroke-width="1.1" />
<line x1="217.39" y1="311.5" x2="217.39" y2="315.5" stroke="#2a2a2a" stroke-width="1.1" />
<text x="217.39" y="533.6" font-size="11" text-anchor="middle" font-weight="normal" fill="#222" stroke="#222" stroke-width="0.3" >1</text>
<line x1="232.59" y1="512.8" x2="232.59" y2="515.8" stroke="#2a2a2a" stroke-width="1.1" />
<line x1="232.59" y1="311.5" x2="232.59" y2="313.5" stroke="#2a2a2a" stroke-width="1.1" />
<line x1="247.78" y1="512.8" x2="247.78" y2="517.8" stroke="#2a2a2a" stroke-width="1.1" />
<line x1="247.78" y1="311.5" x2="247.78" y2="315.5" stroke="#2a2a2a" stroke-width="1.1" />
<text x="247.78" y="533.6" font-size="11" text-anchor="middle" font-weight="normal" fill="#222" stroke="#222" stroke-width="0.3" >2</text>
<line x1="262.98" y1="512.8" x2="262.98" y2="515.8" stroke="#2a2a2a" stroke-width="1.1" />
<line x1="262.98" y1="311.5" x2="262.98" y2="313.5" stroke="#2a2a2a" stroke-width="1.1" />
<line x1="278.17" y1="512.8" x2="278.17" y2="517.8" stroke="#2a2a2a" stroke-width="1.1" />
<line x1="278.17" y1="311.5" x2="278.17" y2="315.5" stroke="#2a2a2a" stroke-width="1.1" />
<text x="278.17" y="533.6" font-size="11" text-anchor="middle" font-weight="normal" fill="#222" stroke="#222" stroke-width="0.3" >3</text>
<line x1="293.37" y1="512.8" x2="293.37" y2="515.8" stroke="#2a2a2a" stroke-width="1.1" />
<line x1="293.37" y1="311.5" x2="293.37" y2="313.5" stroke="#2a2a2a" stroke-width="1.1" />
<line x1="308.56" y1="512.8" x2="308.56" y2="517.8" stroke="#2a2a2a" stroke-width="1.1" />
<line x1="308.56" y1="311.5" x2="308.56" y2="315.5" stroke="#2a2a2a" stroke-width="1.1" />
<text x="308.56" y="533.6" font-size="11" text-anchor="middle" font-weight="normal" fill="#222" stroke="#222" stroke-width="0.3" >4</text>
<line x1="46" y1="505.2" x2="50.5" y2="505.2" stroke="#2a2a2a" stroke-width="1.1" />
<line x1="323.4" y1="505.2" x2="319.9" y2="505.2" stroke="#2a2a2a" stroke-width="1.1" />
<text x="39.7" y="509.1" font-size="11" text-anchor="end" font-weight="normal" fill="#222" stroke="#222" stroke-width="0.3" >-6</text>
<line x1="48" y1="489.7" x2="50.5" y2="489.7" stroke="#2a2a2a" stroke-width="1.1" />
<line x1="323.4" y1="489.7" x2="319.9" y2="489.7" stroke="#2a2a2a" stroke-width="1.1" />
<line x1="46" y1="474.2" x2="50.5" y2="474.2" stroke="#2a2a2a" stroke-width="1.1" />
<line x1="323.4" y1="474.2" x2="319.9" y2="474.2" stroke="#2a2a2a" stroke-width="1.1" />
<text x="39.7" y="478.1" font-size="11" text-anchor="end" font-weight="normal" fill="#222" stroke="#222" stroke-width="0.3" >-4</text>
<line x1="48" y1="458.7" x2="50.5" y2="458.7" stroke="#2a2a2a" stroke-width="1.1" />
<line x1="323.4" y1="458.7" x2="319.9" y2="458.7" stroke="#2a2a2a" stroke-width="1.1" />
<line x1="46" y1="443.2" x2="50.5" y2="443.2" stroke="#2a2a2a" stroke-width="1.1" />
<line x1="323.4" y1="443.2" x2="319.9" y2="443.2" stroke="#2a2a2a" stroke-width="1.1" />
<text x="39.7" y="447.1" font-size="11" text-anchor="end" font-weight="normal" fill="#222" stroke="#222" stroke-width="0.3" >-2</text>
<line x1="48" y1="427.7" x2="50.5" y2="427.7" stroke="#2a2a2a" stroke-width="1.1" />
<line x1="323.4" y1="427.7" x2="319.9" y2="427.7" stroke="#2a2a2a" stroke-width="1.1" />
<line x1="46" y1="412.2" x2="50.5" y2="412.2" stroke="#2a2a2a" stroke-width="1.1" />
<line x1="323.4" y1="412.2" x2="319.9" y2="412.2" stroke="#2a2a2a" stroke-width="1.1" />
<text x="39.7" y="416.1" font-size="11" text-anchor="end" font-weight="normal" fill="#222" stroke="#222" stroke-width="0.3" >0</text>
<line x1="48" y1="396.7" x2="50.5" y2="396.7" stroke="#2a2a2a" stroke-width="1.1" />
<line x1="323.4" y1="396.7" x2="319.9" y2="396.7" stroke="#2a2a2a" stroke-width="1.1" />
<line x1="46" y1="381.2" x2="50.5" y2="381.2" stroke="#2a2a2a" stroke-width="1.1" />
<line x1="323.4" y1="381.2" x2="319.9" y2="381.2" stroke="#2a2a2a" stroke-width="1.1" />
<text x="39.7" y="385.1" font-size="11" text-anchor="end" font-weight="normal" fill="#222" stroke="#222" stroke-width="0.3" >2</text>
<line x1="48" y1="365.7" x2="50.5" y2="365.7" stroke="#2a2a2a" stroke-width="1.1" />
<line x1="323.4" y1="365.7" x2="319.9" y2="365.7" stroke="#2a2a2a" stroke-width="1.1" />
<line x1="46" y1="350.2" x2="50.5" y2="350.2" stroke="#2a2a2a" stroke-width="1.1" />
<line x1="323.4" y1="350.2" x2="319.9" y2="350.2" stroke="#2a2a2a" stroke-width="1.1" />
<text x="39.7" y="354.1" font-size="11" text-anchor="end" font-weight="normal" fill="#222" stroke="#222" stroke-width="0.3" >4</text>
<line x1="48" y1="334.7" x2="50.5" y2="334.7" stroke="#2a2a2a" stroke-width="1.1" />
<line x1="323.4" y1="334.7" x2="319.9" y2="334.7" stroke="#2a2a2a" stroke-width="1.1" />
<line x1="46" y1="319.2" x2="50.5" y2="319.2" stroke="#2a2a2a" stroke-width="1.1" />
<line x1="323.4" y1="319.2" x2="319.9" y2="319.2" stroke="#2a2a2a" stroke-width="1.1" />
<text x="39.7" y="323.1" font-size="11" text-anchor="end" font-weight="normal" fill="#222" stroke="#222" stroke-width="0.3" >6</text>
<line x1="50.5" y1="412.2" x2="323.4" y2="412.2" stroke="#222" stroke-width="1.3" />
<line x1="187" y1="338.2" x2="187" y2="512.8" stroke="#555" stroke-width="1.3" />
<text x="1.3" y="315.4" font-size="16" text-anchor="start" font-weight="bold" fill="#000" stroke="#000" stroke-width="0.3" >c</text>
<text x="186.95" y="551.9" font-size="11.7" text-anchor="middle" font-weight="normal" fill="#222" stroke="#222" stroke-width="0.3" >Applied magnetic field (T)</text>
<text transform="translate(11.4,410.2) rotate(-90)" font-size="11.7" text-anchor="middle" fill="#222">Magnetic moment (μ<tspan font-size="7.5" dy="3.3">B</tspan><tspan dy="-3.3">/f.u.)</tspan></text>
<text x="171.6" y="330.3" font-size="12.8" text-anchor="start" font-weight="bold" fill="#111" stroke="#111" stroke-width="0.3" letter-spacing="0.2">(111)</text>
<text x="255.4" y="485.7" font-size="11.7" text-anchor="start" font-weight="normal" fill="#222" stroke="#222" stroke-width="0.3" >H // [1-10]</text>
<text x="255.4" y="500.4" font-size="11.7" text-anchor="start" font-weight="normal" fill="#222" stroke="#222" stroke-width="0.3" >at 5 K</text>
<clipPath id="cc"><rect x="50.5" y="311.5" width="272.9" height="201.29999999999995"/></clipPath><g clip-path="url(#cc)">
<path d="M308.56 352.04L302.48 351.46L296.4 351.02L290.33 350.69L284.25 350.5L278.17 350.73L272.09 351L266.01 350.83L259.94 350.51L253.86 350.28L247.78 350.02L244.74 349.81L241.7 349.56L238.66 349.27L235.62 348.9L232.59 348.54L229.55 348.28L226.51 348.2L223.47 348.36L220.43 348.68L217.39 349.18L214.35 350.47L211.31 351.95L208.27 352.92L205.23 353.76L202.19 354.71L199.16 355.83L196.12 357.08L193.08 358.5L190.04 360.16L187 361.54L183.96 362.65L180.92 363.69L177.88 364.55L174.84 365.64L171.81 367.75L168.77 370.73L165.73 374.15L162.69 377.79L159.65 381.37L156.61 386.18L153.57 394.34L150.53 406.88L147.49 422.05L144.45 435.11L141.41 446.08L138.38 453.02L135.34 456.71L132.3 460.46L129.26 463.64L126.22 466.05L120.14 468.54L114.06 469.53L107.99 469.8L101.91 469.8L95.83 469.8L89.75 469.8L83.67 469.8L77.6 469.8L71.52 469.8L65.44 469.8" fill="none" stroke="#b08850" stroke-width="0.7" stroke-opacity="1.0"/>
<path d="M65.44 471.79L71.52 472.24L77.6 472.56L83.67 472.77L89.75 472.9L95.83 472.97L101.91 473L107.99 473L114.06 472.5L120.14 473L126.22 473L129.26 472.24L132.3 471.71L135.34 473.94L138.38 471.59L141.41 471.5L144.45 474L147.49 473.03L150.53 471.66L153.57 471.11L156.61 470.81L159.65 470.87L162.69 470.99L165.73 470.84L168.77 470.34L171.81 469.52L174.84 468.51L177.88 467.89L180.92 467.35L183.96 466.65L187 465.64L190.04 463.07L193.08 459.25L196.12 456.26L199.16 454.16L202.19 452.31L205.23 450.4L208.27 448.08L211.31 445.32L214.35 442.08L217.39 437.84L220.43 429.26L223.47 416.05L226.51 400.62L229.55 388.43L232.59 376.46L235.62 370.82L238.66 366.21L241.7 362.42L244.74 358.06L247.78 354.94L253.86 352.4L259.94 352L266.01 352L272.09 352.01L278.17 352.03L284.25 352.06L290.33 352.12L296.4 352.22L302.48 352.34L308.56 352.51" fill="none" stroke="#b08850" stroke-width="0.7" stroke-opacity="1.0"/>
<path d="M306.41 349.89h4.3v4.3h-4.3zM300.33 349.31h4.3v4.3h-4.3zM294.25 348.87h4.3v4.3h-4.3zM288.18 348.54h4.3v4.3h-4.3zM282.1 348.35h4.3v4.3h-4.3zM276.02 348.58h4.3v4.3h-4.3zM269.94 348.85h4.3v4.3h-4.3zM263.86 348.68h4.3v4.3h-4.3zM257.79 348.36h4.3v4.3h-4.3zM251.71 348.13h4.3v4.3h-4.3zM245.63 347.87h4.3v4.3h-4.3zM242.59 347.66h4.3v4.3h-4.3zM239.55 347.41h4.3v4.3h-4.3zM236.51 347.12h4.3v4.3h-4.3zM233.47 346.75h4.3v4.3h-4.3zM230.44 346.39h4.3v4.3h-4.3zM227.4 346.13h4.3v4.3h-4.3zM224.36 346.05h4.3v4.3h-4.3zM221.32 346.21h4.3v4.3h-4.3zM218.28 346.53h4.3v4.3h-4.3zM215.24 347.03h4.3v4.3h-4.3zM212.2 348.32h4.3v4.3h-4.3zM209.16 349.8h4.3v4.3h-4.3zM206.12 350.77h4.3v4.3h-4.3zM203.08 351.61h4.3v4.3h-4.3zM200.04 352.56h4.3v4.3h-4.3zM197.01 353.68h4.3v4.3h-4.3zM193.97 354.93h4.3v4.3h-4.3zM190.93 356.35h4.3v4.3h-4.3zM187.89 358.01h4.3v4.3h-4.3zM184.85 359.39h4.3v4.3h-4.3zM181.81 360.5h4.3v4.3h-4.3zM178.77 361.54h4.3v4.3h-4.3zM175.73 362.4h4.3v4.3h-4.3zM172.69 363.49h4.3v4.3h-4.3zM169.66 365.6h4.3v4.3h-4.3zM166.62 368.58h4.3v4.3h-4.3zM163.58 372h4.3v4.3h-4.3zM160.54 375.64h4.3v4.3h-4.3zM157.5 379.22h4.3v4.3h-4.3zM154.46 384.03h4.3v4.3h-4.3zM151.42 392.19h4.3v4.3h-4.3zM148.38 404.73h4.3v4.3h-4.3zM145.34 419.9h4.3v4.3h-4.3zM142.3 432.96h4.3v4.3h-4.3zM139.26 443.93h4.3v4.3h-4.3zM136.23 450.87h4.3v4.3h-4.3zM133.19 454.56h4.3v4.3h-4.3zM130.15 458.31h4.3v4.3h-4.3zM127.11 461.49h4.3v4.3h-4.3zM124.07 463.9h4.3v4.3h-4.3zM117.99 466.39h4.3v4.3h-4.3zM111.91 467.38h4.3v4.3h-4.3zM105.84 467.65h4.3v4.3h-4.3zM99.76 467.65h4.3v4.3h-4.3zM93.68 467.65h4.3v4.3h-4.3zM87.6 467.65h4.3v4.3h-4.3zM81.52 467.65h4.3v4.3h-4.3zM75.45 467.65h4.3v4.3h-4.3zM69.37 467.65h4.3v4.3h-4.3zM63.29 467.65h4.3v4.3h-4.3zM63.29 469.64h4.3v4.3h-4.3zM69.37 470.09h4.3v4.3h-4.3zM75.45 470.41h4.3v4.3h-4.3zM81.52 470.62h4.3v4.3h-4.3zM87.6 470.75h4.3v4.3h-4.3zM93.68 470.82h4.3v4.3h-4.3zM99.76 470.85h4.3v4.3h-4.3zM105.84 470.85h4.3v4.3h-4.3zM111.91 470.35h4.3v4.3h-4.3zM117.99 470.85h4.3v4.3h-4.3zM124.07 470.85h4.3v4.3h-4.3zM127.11 470.09h4.3v4.3h-4.3zM130.15 469.56h4.3v4.3h-4.3zM133.19 471.79h4.3v4.3h-4.3zM136.23 469.44h4.3v4.3h-4.3zM139.26 469.35h4.3v4.3h-4.3zM142.3 471.85h4.3v4.3h-4.3zM145.34 470.88h4.3v4.3h-4.3zM148.38 469.51h4.3v4.3h-4.3zM151.42 468.96h4.3v4.3h-4.3zM154.46 468.66h4.3v4.3h-4.3zM157.5 468.72h4.3v4.3h-4.3zM160.54 468.84h4.3v4.3h-4.3zM163.58 468.69h4.3v4.3h-4.3zM166.62 468.19h4.3v4.3h-4.3zM169.66 467.37h4.3v4.3h-4.3zM172.69 466.36h4.3v4.3h-4.3zM175.73 465.74h4.3v4.3h-4.3zM178.77 465.2h4.3v4.3h-4.3zM181.81 464.5h4.3v4.3h-4.3zM184.85 463.49h4.3v4.3h-4.3zM187.89 460.92h4.3v4.3h-4.3zM190.93 457.1h4.3v4.3h-4.3zM193.97 454.11h4.3v4.3h-4.3zM197.01 452.01h4.3v4.3h-4.3zM200.04 450.16h4.3v4.3h-4.3zM203.08 448.25h4.3v4.3h-4.3zM206.12 445.93h4.3v4.3h-4.3zM209.16 443.17h4.3v4.3h-4.3zM212.2 439.93h4.3v4.3h-4.3zM215.24 435.69h4.3v4.3h-4.3zM218.28 427.11h4.3v4.3h-4.3zM221.32 413.9h4.3v4.3h-4.3zM224.36 398.47h4.3v4.3h-4.3zM227.4 386.28h4.3v4.3h-4.3zM230.44 374.31h4.3v4.3h-4.3zM233.47 368.67h4.3v4.3h-4.3zM236.51 364.06h4.3v4.3h-4.3zM239.55 360.27h4.3v4.3h-4.3zM242.59 355.91h4.3v4.3h-4.3zM245.63 352.79h4.3v4.3h-4.3zM251.71 350.25h4.3v4.3h-4.3zM257.79 349.85h4.3v4.3h-4.3zM263.86 349.85h4.3v4.3h-4.3zM269.94 349.86h4.3v4.3h-4.3zM276.02 349.88h4.3v4.3h-4.3zM282.1 349.91h4.3v4.3h-4.3zM288.18 349.97h4.3v4.3h-4.3zM294.25 350.07h4.3v4.3h-4.3zM300.33 350.19h4.3v4.3h-4.3zM306.41 350.36h4.3v4.3h-4.3z" fill="#946218"/>
<path d="M308.56 357L302.48 357L296.4 357L290.33 356.82L284.25 356.6L278.17 356.6L272.09 356.6L266.01 356.6L259.94 356.6L253.86 356.78L247.78 357L244.74 357L241.7 357L238.66 356.99L235.62 356.97L232.59 356.94L229.55 356.91L226.51 356.9L223.47 356.9L220.43 356.87L217.39 356.56L214.35 356.3L211.31 356.49L208.27 356.99L205.23 357.56L202.19 358.04L199.16 358.51L196.12 359.08L193.08 359.87L190.04 361.04L187 362.41L183.96 364.02L180.92 365.87L177.88 367.49L174.84 368.66L171.81 369.83L168.77 371.56L165.73 374.35L162.69 379.07L159.65 390.34L156.61 407.44L153.57 420.66L150.53 433.88L147.49 444.78L144.45 450.88L141.41 455.64L138.38 459.43L135.34 461.87L132.3 463.89L129.26 464.35L126.22 464.5L120.14 464.5L114.06 464.5L107.99 464.5L101.91 464.5L95.83 464.5L89.75 464.5L83.67 464.5L77.6 464.5L71.52 464.5L65.44 464.5" fill="none" stroke="#4aa04a" stroke-width="0.7" stroke-opacity="1.0"/>
<path d="M65.44 465L71.52 465L77.6 465L83.67 465L89.75 465L95.83 465L101.91 465L107.99 465L114.06 465L120.14 465L126.22 465L129.26 465.27L132.3 465.5L135.34 465.41L138.38 465.21L141.41 464.97L144.45 464.73L147.49 464.56L150.53 464.51L153.57 464.89L156.61 465.29L159.65 465.16L162.69 464.77L165.73 464.32L168.77 463.72L171.81 463.39L174.84 463.35L177.88 463.31L180.92 461.98L183.96 460.08L187 459.5L190.04 458.99L193.08 457.96L196.12 456.76L199.16 455.9L202.19 454.93L205.23 453.29L208.27 450.8L211.31 446.49L214.35 431.34L217.39 416.29L220.43 402.19L223.47 388.31L226.51 380.24L229.55 372.33L232.59 366.69L235.62 364.02L238.66 361.17L241.7 358.1L244.74 357.43L247.78 357.08L253.86 357L259.94 357L266.01 357L272.09 357L278.17 357L284.25 357L290.33 357L296.4 357L302.48 357L308.56 357" fill="none" stroke="#4aa04a" stroke-width="0.7" stroke-opacity="1.0"/>
<path d="M308.56 353.98L311.36 359.02L305.76 359.02zM302.48 353.98L305.28 359.02L299.68 359.02zM296.4 353.98L299.2 359.02L293.6 359.02zM290.33 353.79L293.13 358.83L287.53 358.83zM284.25 353.58L287.05 358.62L281.45 358.62zM278.17 353.58L280.97 358.62L275.37 358.62zM272.09 353.58L274.89 358.62L269.29 358.62zM266.01 353.58L268.81 358.62L263.21 358.62zM259.94 353.58L262.74 358.62L257.14 358.62zM253.86 353.76L256.66 358.8L251.06 358.8zM247.78 353.98L250.58 359.02L244.98 359.02zM244.74 353.98L247.54 359.02L241.94 359.02zM241.7 353.98L244.5 359.02L238.9 359.02zM238.66 353.97L241.46 359.01L235.86 359.01zM235.62 353.94L238.42 358.98L232.82 358.98zM232.59 353.91L235.39 358.95L229.78 358.95zM229.55 353.89L232.35 358.93L226.75 358.93zM226.51 353.88L229.31 358.92L223.71 358.92zM223.47 353.88L226.27 358.92L220.67 358.92zM220.43 353.85L223.23 358.89L217.63 358.89zM217.39 353.53L220.19 358.57L214.59 358.57zM214.35 353.28L217.15 358.32L211.55 358.32zM211.31 353.47L214.11 358.51L208.51 358.51zM208.27 353.96L211.07 359L205.47 359zM205.23 354.54L208.03 359.58L202.43 359.58zM202.19 355.01L205 360.05L199.39 360.05zM199.16 355.48L201.96 360.52L196.36 360.52zM196.12 356.05L198.92 361.09L193.32 361.09zM193.08 356.84L195.88 361.88L190.28 361.88zM190.04 358.01L192.84 363.05L187.24 363.05zM187 359.39L189.8 364.43L184.2 364.43zM183.96 361L186.76 366.04L181.16 366.04zM180.92 362.84L183.72 367.88L178.12 367.88zM177.88 364.46L180.68 369.5L175.08 369.5zM174.84 365.64L177.64 370.68L172.04 370.68zM171.81 366.81L174.61 371.85L169 371.85zM168.77 368.53L171.57 373.57L165.97 373.57zM165.73 371.32L168.53 376.36L162.93 376.36zM162.69 376.05L165.49 381.09L159.89 381.09zM159.65 387.32L162.45 392.36L156.85 392.36zM156.61 404.41L159.41 409.45L153.81 409.45zM153.57 417.64L156.37 422.68L150.77 422.68zM150.53 430.86L153.33 435.9L147.73 435.9zM147.49 441.75L150.29 446.79L144.69 446.79zM144.45 447.86L147.25 452.9L141.65 452.9zM141.41 452.62L144.22 457.66L138.61 457.66zM138.38 456.4L141.18 461.44L135.58 461.44zM135.34 458.84L138.14 463.88L132.54 463.88zM132.3 460.87L135.1 465.91L129.5 465.91zM129.26 461.33L132.06 466.37L126.46 466.37zM126.22 461.48L129.02 466.52L123.42 466.52zM120.14 461.48L122.94 466.52L117.34 466.52zM114.06 461.48L116.86 466.52L111.26 466.52zM107.99 461.48L110.79 466.52L105.19 466.52zM101.91 461.48L104.71 466.52L99.11 466.52zM95.83 461.48L98.63 466.52L93.03 466.52zM89.75 461.48L92.55 466.52L86.95 466.52zM83.67 461.48L86.47 466.52L80.87 466.52zM77.6 461.48L80.4 466.52L74.8 466.52zM71.52 461.48L74.32 466.52L68.72 466.52zM65.44 461.48L68.24 466.52L62.64 466.52zM65.44 461.98L68.24 467.02L62.64 467.02zM71.52 461.98L74.32 467.02L68.72 467.02zM77.6 461.98L80.4 467.02L74.8 467.02zM83.67 461.98L86.47 467.02L80.87 467.02zM89.75 461.98L92.55 467.02L86.95 467.02zM95.83 461.98L98.63 467.02L93.03 467.02zM101.91 461.98L104.71 467.02L99.11 467.02zM107.99 461.98L110.79 467.02L105.19 467.02zM114.06 461.98L116.86 467.02L111.26 467.02zM120.14 461.98L122.94 467.02L117.34 467.02zM126.22 461.98L129.02 467.02L123.42 467.02zM129.26 462.25L132.06 467.29L126.46 467.29zM132.3 462.47L135.1 467.51L129.5 467.51zM135.34 462.38L138.14 467.42L132.54 467.42zM138.38 462.19L141.18 467.23L135.58 467.23zM141.41 461.95L144.22 466.99L138.61 466.99zM144.45 461.71L147.25 466.75L141.65 466.75zM147.49 461.54L150.29 466.58L144.69 466.58zM150.53 461.48L153.33 466.52L147.73 466.52zM153.57 461.86L156.37 466.9L150.77 466.9zM156.61 462.26L159.41 467.3L153.81 467.3zM159.65 462.13L162.45 467.17L156.85 467.17zM162.69 461.75L165.49 466.79L159.89 466.79zM165.73 461.3L168.53 466.34L162.93 466.34zM168.77 460.7L171.57 465.74L165.97 465.74zM171.81 460.37L174.61 465.41L169 465.41zM174.84 460.33L177.64 465.37L172.04 465.37zM177.88 460.28L180.68 465.32L175.08 465.32zM180.92 458.95L183.72 463.99L178.12 463.99zM183.96 457.06L186.76 462.1L181.16 462.1zM187 456.47L189.8 461.51L184.2 461.51zM190.04 455.96L192.84 461L187.24 461zM193.08 454.94L195.88 459.98L190.28 459.98zM196.12 453.74L198.92 458.78L193.32 458.78zM199.16 452.87L201.96 457.91L196.36 457.91zM202.19 451.9L205 456.94L199.39 456.94zM205.23 450.27L208.03 455.31L202.43 455.31zM208.27 447.78L211.07 452.82L205.47 452.82zM211.31 443.46L214.11 448.5L208.51 448.5zM214.35 428.32L217.15 433.36L211.55 433.36zM217.39 413.27L220.19 418.31L214.59 418.31zM220.43 399.16L223.23 404.2L217.63 404.2zM223.47 385.28L226.27 390.32L220.67 390.32zM226.51 377.22L229.31 382.26L223.71 382.26zM229.55 369.31L232.35 374.35L226.75 374.35zM232.59 363.67L235.39 368.71L229.78 368.71zM235.62 361L238.42 366.04L232.82 366.04zM238.66 358.15L241.46 363.19L235.86 363.19zM241.7 355.08L244.5 360.12L238.9 360.12zM244.74 354.41L247.54 359.45L241.94 359.45zM247.78 354.05L250.58 359.09L244.98 359.09zM253.86 353.98L256.66 359.02L251.06 359.02zM259.94 353.98L262.74 359.02L257.14 359.02zM266.01 353.98L268.81 359.02L263.21 359.02zM272.09 353.98L274.89 359.02L269.29 359.02zM278.17 353.98L280.97 359.02L275.37 359.02zM284.25 353.98L287.05 359.02L281.45 359.02zM290.33 353.98L293.13 359.02L287.53 359.02zM296.4 353.98L299.2 359.02L293.6 359.02zM302.48 353.98L305.28 359.02L299.68 359.02zM308.56 353.98L311.36 359.02L305.76 359.02z" fill="#0f7a0c"/>
<path d="M308.56 321.44L302.48 320.7L296.4 319.77L290.33 318.61L284.25 319.61L278.17 322.6L272.09 322.7L266.01 321.8L259.94 324.19L253.86 325.7L247.78 328.24L244.74 328.79L241.7 329.09L238.66 326.9L235.62 326.9L232.59 326.91L229.55 327.67L226.51 328.8L223.47 329.99L220.43 331.55L217.39 333.04L214.35 334.19L211.31 335.67L208.27 337.56L205.23 339.61L202.19 341.52L199.16 343.55L196.12 347.97L193.08 348.9L190.04 348.91L187 350.21L183.96 352.63L180.92 355.59L177.88 356.41L174.84 366.77L171.81 377.97L168.77 400.44L165.73 430.7L162.69 449.55L159.65 460.07L156.61 466.81L153.57 471.77L150.53 476.69L147.49 481.13L144.45 484.25L141.41 487.2L138.38 489.68L135.34 491.51L132.3 493.07L129.26 493.76L126.22 494.38L120.14 496.88L114.06 500.29L107.99 501.04L101.91 502.5L95.83 502.6L89.75 502.6L83.67 502.6L77.6 502.6L71.52 502.6L65.44 502.6" fill="none" stroke="#4a4ae8" stroke-width="0.7" stroke-opacity="1.0"/>
<path d="M65.44 502.6L71.52 502.6L77.6 502.6L83.67 502.6L89.75 502.6L95.83 502.6L101.91 503L107.99 501.04L114.06 500.29L120.14 497.4L126.22 495.5L129.26 495.5L132.3 495.5L135.34 496.05L138.38 496.78L141.41 495.24L144.45 494.5L147.49 494.2L150.53 494.81L153.57 497.91L156.61 493.21L159.65 487.88L162.69 487.3L165.73 486.75L168.77 484.62L171.81 483.38L174.84 480.88L177.88 478.5L180.92 479.1L183.96 476.2L187 474.32L190.04 471.35L193.08 464.65L196.12 465.98L199.16 461.16L202.19 449.95L205.23 422.26L208.27 390.9L211.31 373.73L214.35 363.48L217.39 356.12L220.43 351.57L223.47 346.53L226.51 342.89L229.55 339.69L232.59 337.07L235.62 334.98L238.66 333.15L241.7 330.32L244.74 329.19L247.78 328.19L253.86 325.7L259.94 324.19L266.01 321.8L272.09 322.7L278.17 322.6L284.25 319.61L290.33 318.61L296.4 319.77L302.48 320.7L308.56 321.44" fill="none" stroke="#4a4ae8" stroke-width="0.7" stroke-opacity="1.0"/>
<path d="M306.16 321.44a2.4 2.4 0 1 0 4.8 0a2.4 2.4 0 1 0 -4.8 0zM300.08 320.7a2.4 2.4 0 1 0 4.8 0a2.4 2.4 0 1 0 -4.8 0zM294 319.77a2.4 2.4 0 1 0 4.8 0a2.4 2.4 0 1 0 -4.8 0zM287.93 318.61a2.4 2.4 0 1 0 4.8 0a2.4 2.4 0 1 0 -4.8 0zM281.85 319.61a2.4 2.4 0 1 0 4.8 0a2.4 2.4 0 1 0 -4.8 0zM275.77 322.6a2.4 2.4 0 1 0 4.8 0a2.4 2.4 0 1 0 -4.8 0zM269.69 322.7a2.4 2.4 0 1 0 4.8 0a2.4 2.4 0 1 0 -4.8 0zM263.61 321.8a2.4 2.4 0 1 0 4.8 0a2.4 2.4 0 1 0 -4.8 0zM257.54 324.19a2.4 2.4 0 1 0 4.8 0a2.4 2.4 0 1 0 -4.8 0zM251.46 325.7a2.4 2.4 0 1 0 4.8 0a2.4 2.4 0 1 0 -4.8 0zM245.38 328.24a2.4 2.4 0 1 0 4.8 0a2.4 2.4 0 1 0 -4.8 0zM242.34 328.79a2.4 2.4 0 1 0 4.8 0a2.4 2.4 0 1 0 -4.8 0zM239.3 329.09a2.4 2.4 0 1 0 4.8 0a2.4 2.4 0 1 0 -4.8 0zM236.26 326.9a2.4 2.4 0 1 0 4.8 0a2.4 2.4 0 1 0 -4.8 0zM233.22 326.9a2.4 2.4 0 1 0 4.8 0a2.4 2.4 0 1 0 -4.8 0zM230.19 326.91a2.4 2.4 0 1 0 4.8 0a2.4 2.4 0 1 0 -4.8 0zM227.15 327.67a2.4 2.4 0 1 0 4.8 0a2.4 2.4 0 1 0 -4.8 0zM224.11 328.8a2.4 2.4 0 1 0 4.8 0a2.4 2.4 0 1 0 -4.8 0zM221.07 329.99a2.4 2.4 0 1 0 4.8 0a2.4 2.4 0 1 0 -4.8 0zM218.03 331.55a2.4 2.4 0 1 0 4.8 0a2.4 2.4 0 1 0 -4.8 0zM214.99 333.04a2.4 2.4 0 1 0 4.8 0a2.4 2.4 0 1 0 -4.8 0zM211.95 334.19a2.4 2.4 0 1 0 4.8 0a2.4 2.4 0 1 0 -4.8 0zM208.91 335.67a2.4 2.4 0 1 0 4.8 0a2.4 2.4 0 1 0 -4.8 0zM205.87 337.56a2.4 2.4 0 1 0 4.8 0a2.4 2.4 0 1 0 -4.8 0zM202.83 339.61a2.4 2.4 0 1 0 4.8 0a2.4 2.4 0 1 0 -4.8 0zM199.79 341.52a2.4 2.4 0 1 0 4.8 0a2.4 2.4 0 1 0 -4.8 0zM196.76 343.55a2.4 2.4 0 1 0 4.8 0a2.4 2.4 0 1 0 -4.8 0zM193.72 347.97a2.4 2.4 0 1 0 4.8 0a2.4 2.4 0 1 0 -4.8 0zM190.68 348.9a2.4 2.4 0 1 0 4.8 0a2.4 2.4 0 1 0 -4.8 0zM187.64 348.91a2.4 2.4 0 1 0 4.8 0a2.4 2.4 0 1 0 -4.8 0zM184.6 350.21a2.4 2.4 0 1 0 4.8 0a2.4 2.4 0 1 0 -4.8 0zM181.56 352.63a2.4 2.4 0 1 0 4.8 0a2.4 2.4 0 1 0 -4.8 0zM178.52 355.59a2.4 2.4 0 1 0 4.8 0a2.4 2.4 0 1 0 -4.8 0zM175.48 356.41a2.4 2.4 0 1 0 4.8 0a2.4 2.4 0 1 0 -4.8 0zM172.44 366.77a2.4 2.4 0 1 0 4.8 0a2.4 2.4 0 1 0 -4.8 0zM169.41 377.97a2.4 2.4 0 1 0 4.8 0a2.4 2.4 0 1 0 -4.8 0zM166.37 400.44a2.4 2.4 0 1 0 4.8 0a2.4 2.4 0 1 0 -4.8 0zM163.33 430.7a2.4 2.4 0 1 0 4.8 0a2.4 2.4 0 1 0 -4.8 0zM160.29 449.55a2.4 2.4 0 1 0 4.8 0a2.4 2.4 0 1 0 -4.8 0zM157.25 460.07a2.4 2.4 0 1 0 4.8 0a2.4 2.4 0 1 0 -4.8 0zM154.21 466.81a2.4 2.4 0 1 0 4.8 0a2.4 2.4 0 1 0 -4.8 0zM151.17 471.77a2.4 2.4 0 1 0 4.8 0a2.4 2.4 0 1 0 -4.8 0zM148.13 476.69a2.4 2.4 0 1 0 4.8 0a2.4 2.4 0 1 0 -4.8 0zM145.09 481.13a2.4 2.4 0 1 0 4.8 0a2.4 2.4 0 1 0 -4.8 0zM142.05 484.25a2.4 2.4 0 1 0 4.8 0a2.4 2.4 0 1 0 -4.8 0zM139.01 487.2a2.4 2.4 0 1 0 4.8 0a2.4 2.4 0 1 0 -4.8 0zM135.98 489.68a2.4 2.4 0 1 0 4.8 0a2.4 2.4 0 1 0 -4.8 0zM132.94 491.51a2.4 2.4 0 1 0 4.8 0a2.4 2.4 0 1 0 -4.8 0zM129.9 493.07a2.4 2.4 0 1 0 4.8 0a2.4 2.4 0 1 0 -4.8 0zM126.86 493.76a2.4 2.4 0 1 0 4.8 0a2.4 2.4 0 1 0 -4.8 0zM123.82 494.38a2.4 2.4 0 1 0 4.8 0a2.4 2.4 0 1 0 -4.8 0zM117.74 496.88a2.4 2.4 0 1 0 4.8 0a2.4 2.4 0 1 0 -4.8 0zM111.66 500.29a2.4 2.4 0 1 0 4.8 0a2.4 2.4 0 1 0 -4.8 0zM105.59 501.04a2.4 2.4 0 1 0 4.8 0a2.4 2.4 0 1 0 -4.8 0zM99.51 502.5a2.4 2.4 0 1 0 4.8 0a2.4 2.4 0 1 0 -4.8 0zM93.43 502.6a2.4 2.4 0 1 0 4.8 0a2.4 2.4 0 1 0 -4.8 0zM87.35 502.6a2.4 2.4 0 1 0 4.8 0a2.4 2.4 0 1 0 -4.8 0zM81.27 502.6a2.4 2.4 0 1 0 4.8 0a2.4 2.4 0 1 0 -4.8 0zM75.2 502.6a2.4 2.4 0 1 0 4.8 0a2.4 2.4 0 1 0 -4.8 0zM69.12 502.6a2.4 2.4 0 1 0 4.8 0a2.4 2.4 0 1 0 -4.8 0zM63.04 502.6a2.4 2.4 0 1 0 4.8 0a2.4 2.4 0 1 0 -4.8 0zM63.04 502.6a2.4 2.4 0 1 0 4.8 0a2.4 2.4 0 1 0 -4.8 0zM69.12 502.6a2.4 2.4 0 1 0 4.8 0a2.4 2.4 0 1 0 -4.8 0zM75.2 502.6a2.4 2.4 0 1 0 4.8 0a2.4 2.4 0 1 0 -4.8 0zM81.27 502.6a2.4 2.4 0 1 0 4.8 0a2.4 2.4 0 1 0 -4.8 0zM87.35 502.6a2.4 2.4 0 1 0 4.8 0a2.4 2.4 0 1 0 -4.8 0zM93.43 502.6a2.4 2.4 0 1 0 4.8 0a2.4 2.4 0 1 0 -4.8 0zM99.51 503a2.4 2.4 0 1 0 4.8 0a2.4 2.4 0 1 0 -4.8 0zM105.59 501.04a2.4 2.4 0 1 0 4.8 0a2.4 2.4 0 1 0 -4.8 0zM111.66 500.29a2.4 2.4 0 1 0 4.8 0a2.4 2.4 0 1 0 -4.8 0zM117.74 497.4a2.4 2.4 0 1 0 4.8 0a2.4 2.4 0 1 0 -4.8 0zM123.82 495.5a2.4 2.4 0 1 0 4.8 0a2.4 2.4 0 1 0 -4.8 0zM126.86 495.5a2.4 2.4 0 1 0 4.8 0a2.4 2.4 0 1 0 -4.8 0zM129.9 495.5a2.4 2.4 0 1 0 4.8 0a2.4 2.4 0 1 0 -4.8 0zM132.94 496.05a2.4 2.4 0 1 0 4.8 0a2.4 2.4 0 1 0 -4.8 0zM135.98 496.78a2.4 2.4 0 1 0 4.8 0a2.4 2.4 0 1 0 -4.8 0zM139.01 495.24a2.4 2.4 0 1 0 4.8 0a2.4 2.4 0 1 0 -4.8 0zM142.05 494.5a2.4 2.4 0 1 0 4.8 0a2.4 2.4 0 1 0 -4.8 0zM145.09 494.2a2.4 2.4 0 1 0 4.8 0a2.4 2.4 0 1 0 -4.8 0zM148.13 494.81a2.4 2.4 0 1 0 4.8 0a2.4 2.4 0 1 0 -4.8 0zM151.17 497.91a2.4 2.4 0 1 0 4.8 0a2.4 2.4 0 1 0 -4.8 0zM154.21 493.21a2.4 2.4 0 1 0 4.8 0a2.4 2.4 0 1 0 -4.8 0zM157.25 487.88a2.4 2.4 0 1 0 4.8 0a2.4 2.4 0 1 0 -4.8 0zM160.29 487.3a2.4 2.4 0 1 0 4.8 0a2.4 2.4 0 1 0 -4.8 0zM163.33 486.75a2.4 2.4 0 1 0 4.8 0a2.4 2.4 0 1 0 -4.8 0zM166.37 484.62a2.4 2.4 0 1 0 4.8 0a2.4 2.4 0 1 0 -4.8 0zM169.41 483.38a2.4 2.4 0 1 0 4.8 0a2.4 2.4 0 1 0 -4.8 0zM172.44 480.88a2.4 2.4 0 1 0 4.8 0a2.4 2.4 0 1 0 -4.8 0zM175.48 478.5a2.4 2.4 0 1 0 4.8 0a2.4 2.4 0 1 0 -4.8 0zM178.52 479.1a2.4 2.4 0 1 0 4.8 0a2.4 2.4 0 1 0 -4.8 0zM181.56 476.2a2.4 2.4 0 1 0 4.8 0a2.4 2.4 0 1 0 -4.8 0zM184.6 474.32a2.4 2.4 0 1 0 4.8 0a2.4 2.4 0 1 0 -4.8 0zM187.64 471.35a2.4 2.4 0 1 0 4.8 0a2.4 2.4 0 1 0 -4.8 0zM190.68 464.65a2.4 2.4 0 1 0 4.8 0a2.4 2.4 0 1 0 -4.8 0zM193.72 465.98a2.4 2.4 0 1 0 4.8 0a2.4 2.4 0 1 0 -4.8 0zM196.76 461.16a2.4 2.4 0 1 0 4.8 0a2.4 2.4 0 1 0 -4.8 0zM199.79 449.95a2.4 2.4 0 1 0 4.8 0a2.4 2.4 0 1 0 -4.8 0zM202.83 422.26a2.4 2.4 0 1 0 4.8 0a2.4 2.4 0 1 0 -4.8 0zM205.87 390.9a2.4 2.4 0 1 0 4.8 0a2.4 2.4 0 1 0 -4.8 0zM208.91 373.73a2.4 2.4 0 1 0 4.8 0a2.4 2.4 0 1 0 -4.8 0zM211.95 363.48a2.4 2.4 0 1 0 4.8 0a2.4 2.4 0 1 0 -4.8 0zM214.99 356.12a2.4 2.4 0 1 0 4.8 0a2.4 2.4 0 1 0 -4.8 0zM218.03 351.57a2.4 2.4 0 1 0 4.8 0a2.4 2.4 0 1 0 -4.8 0zM221.07 346.53a2.4 2.4 0 1 0 4.8 0a2.4 2.4 0 1 0 -4.8 0zM224.11 342.89a2.4 2.4 0 1 0 4.8 0a2.4 2.4 0 1 0 -4.8 0zM227.15 339.69a2.4 2.4 0 1 0 4.8 0a2.4 2.4 0 1 0 -4.8 0zM230.19 337.07a2.4 2.4 0 1 0 4.8 0a2.4 2.4 0 1 0 -4.8 0zM233.22 334.98a2.4 2.4 0 1 0 4.8 0a2.4 2.4 0 1 0 -4.8 0zM236.26 333.15a2.4 2.4 0 1 0 4.8 0a2.4 2.4 0 1 0 -4.8 0zM239.3 330.32a2.4 2.4 0 1 0 4.8 0a2.4 2.4 0 1 0 -4.8 0zM242.34 329.19a2.4 2.4 0 1 0 4.8 0a2.4 2.4 0 1 0 -4.8 0zM245.38 328.19a2.4 2.4 0 1 0 4.8 0a2.4 2.4 0 1 0 -4.8 0zM251.46 325.7a2.4 2.4 0 1 0 4.8 0a2.4 2.4 0 1 0 -4.8 0zM257.54 324.19a2.4 2.4 0 1 0 4.8 0a2.4 2.4 0 1 0 -4.8 0zM263.61 321.8a2.4 2.4 0 1 0 4.8 0a2.4 2.4 0 1 0 -4.8 0zM269.69 322.7a2.4 2.4 0 1 0 4.8 0a2.4 2.4 0 1 0 -4.8 0zM275.77 322.6a2.4 2.4 0 1 0 4.8 0a2.4 2.4 0 1 0 -4.8 0zM281.85 319.61a2.4 2.4 0 1 0 4.8 0a2.4 2.4 0 1 0 -4.8 0zM287.93 318.61a2.4 2.4 0 1 0 4.8 0a2.4 2.4 0 1 0 -4.8 0zM294 319.77a2.4 2.4 0 1 0 4.8 0a2.4 2.4 0 1 0 -4.8 0zM300.08 320.7a2.4 2.4 0 1 0 4.8 0a2.4 2.4 0 1 0 -4.8 0zM306.16 321.44a2.4 2.4 0 1 0 4.8 0a2.4 2.4 0 1 0 -4.8 0z" fill="#0a0ae8"/>
</g>
<path d="M50.5 311.5H323.4V512.8H50.5Z" fill="none" stroke="#1e1e1e" stroke-width="1.35"/>
<line x1="61.2" y1="343.6" x2="70.1" y2="343.6" stroke="#c0a070" stroke-width="1.0" />
<line x1="78.1" y1="343.6" x2="87.7" y2="343.6" stroke="#c0a070" stroke-width="1.0" />
<path d="M71.95 341.45h4.3v4.3h-4.3z" fill="#946218"/>
<text x="95.8" y="347.7" font-size="11.7" text-anchor="start" font-weight="normal" fill="#222" stroke="#222" stroke-width="0.3" >LaAlO</text>
<text x="129" y="352.6" font-size="6.4" fill="#222" stroke="#222" stroke-width="0.2">3</text>
<line x1="61.2" y1="362.4" x2="70.1" y2="362.4" stroke="#5a5ae0" stroke-width="1.0" />
<line x1="78.1" y1="362.4" x2="87.7" y2="362.4" stroke="#5a5ae0" stroke-width="1.0" />
<path d="M71.7 362.4a2.4 2.4 0 1 0 4.8 0a2.4 2.4 0 1 0 -4.8 0z" fill="#0a0ae8"/>
<text x="95.8" y="366.5" font-size="11.7" text-anchor="start" font-weight="normal" fill="#222" stroke="#222" stroke-width="0.3" >LSAT</text>
<line x1="61.2" y1="376.7" x2="70.1" y2="376.7" stroke="#80b880" stroke-width="1.0" />
<line x1="78.1" y1="376.7" x2="87.7" y2="376.7" stroke="#80b880" stroke-width="1.0" />
<path d="M74.1 373.68L76.9 378.72L71.3 378.72z" fill="#0f7a0c"/>
<text x="95.8" y="380.8" font-size="11.7" text-anchor="start" font-weight="normal" fill="#222" stroke="#222" stroke-width="0.3" >SrTiO</text>
<text x="127.5" y="385.7" font-size="6.4" fill="#222" stroke="#222" stroke-width="0.2">3</text>
<line x1="418.5" y1="513.1" x2="418.5" y2="518.1" stroke="#2a2a2a" stroke-width="1.1" />
<line x1="418.5" y1="311.4" x2="418.5" y2="315.4" stroke="#2a2a2a" stroke-width="1.1" />
<text x="417.7" y="533.6" font-size="11" text-anchor="middle" font-weight="normal" fill="#222" stroke="#222" stroke-width="0.3" >-4</text>
<line x1="433.69" y1="513.1" x2="433.69" y2="516.1" stroke="#2a2a2a" stroke-width="1.1" />
<line x1="433.69" y1="311.4" x2="433.69" y2="313.4" stroke="#2a2a2a" stroke-width="1.1" />
<line x1="448.88" y1="513.1" x2="448.88" y2="518.1" stroke="#2a2a2a" stroke-width="1.1" />
<line x1="448.88" y1="311.4" x2="448.88" y2="315.4" stroke="#2a2a2a" stroke-width="1.1" />
<text x="448.07" y="533.6" font-size="11" text-anchor="middle" font-weight="normal" fill="#222" stroke="#222" stroke-width="0.3" >-3</text>
<line x1="464.06" y1="513.1" x2="464.06" y2="516.1" stroke="#2a2a2a" stroke-width="1.1" />
<line x1="464.06" y1="311.4" x2="464.06" y2="313.4" stroke="#2a2a2a" stroke-width="1.1" />
<line x1="479.25" y1="513.1" x2="479.25" y2="518.1" stroke="#2a2a2a" stroke-width="1.1" />
<line x1="479.25" y1="311.4" x2="479.25" y2="315.4" stroke="#2a2a2a" stroke-width="1.1" />
<text x="478.45" y="533.6" font-size="11" text-anchor="middle" font-weight="normal" fill="#222" stroke="#222" stroke-width="0.3" >-2</text>
<line x1="494.44" y1="513.1" x2="494.44" y2="516.1" stroke="#2a2a2a" stroke-width="1.1" />
<line x1="494.44" y1="311.4" x2="494.44" y2="313.4" stroke="#2a2a2a" stroke-width="1.1" />
<line x1="509.62" y1="513.1" x2="509.62" y2="518.1" stroke="#2a2a2a" stroke-width="1.1" />
<line x1="509.62" y1="311.4" x2="509.62" y2="315.4" stroke="#2a2a2a" stroke-width="1.1" />
<text x="508.82" y="533.6" font-size="11" text-anchor="middle" font-weight="normal" fill="#222" stroke="#222" stroke-width="0.3" >-1</text>
<line x1="524.81" y1="513.1" x2="524.81" y2="516.1" stroke="#2a2a2a" stroke-width="1.1" />
<line x1="524.81" y1="311.4" x2="524.81" y2="313.4" stroke="#2a2a2a" stroke-width="1.1" />
<line x1="540" y1="513.1" x2="540" y2="518.1" stroke="#2a2a2a" stroke-width="1.1" />
<line x1="540" y1="311.4" x2="540" y2="315.4" stroke="#2a2a2a" stroke-width="1.1" />
<text x="540" y="533.6" font-size="11" text-anchor="middle" font-weight="normal" fill="#222" stroke="#222" stroke-width="0.3" >0</text>
<line x1="555.19" y1="513.1" x2="555.19" y2="516.1" stroke="#2a2a2a" stroke-width="1.1" />
<line x1="555.19" y1="311.4" x2="555.19" y2="313.4" stroke="#2a2a2a" stroke-width="1.1" />
<line x1="570.38" y1="513.1" x2="570.38" y2="518.1" stroke="#2a2a2a" stroke-width="1.1" />
<line x1="570.38" y1="311.4" x2="570.38" y2="315.4" stroke="#2a2a2a" stroke-width="1.1" />
<text x="570.38" y="533.6" font-size="11" text-anchor="middle" font-weight="normal" fill="#222" stroke="#222" stroke-width="0.3" >1</text>
<line x1="585.56" y1="513.1" x2="585.56" y2="516.1" stroke="#2a2a2a" stroke-width="1.1" />
<line x1="585.56" y1="311.4" x2="585.56" y2="313.4" stroke="#2a2a2a" stroke-width="1.1" />
<line x1="600.75" y1="513.1" x2="600.75" y2="518.1" stroke="#2a2a2a" stroke-width="1.1" />
<line x1="600.75" y1="311.4" x2="600.75" y2="315.4" stroke="#2a2a2a" stroke-width="1.1" />
<text x="600.75" y="533.6" font-size="11" text-anchor="middle" font-weight="normal" fill="#222" stroke="#222" stroke-width="0.3" >2</text>
<line x1="615.94" y1="513.1" x2="615.94" y2="516.1" stroke="#2a2a2a" stroke-width="1.1" />
<line x1="615.94" y1="311.4" x2="615.94" y2="313.4" stroke="#2a2a2a" stroke-width="1.1" />
<line x1="631.12" y1="513.1" x2="631.12" y2="518.1" stroke="#2a2a2a" stroke-width="1.1" />
<line x1="631.12" y1="311.4" x2="631.12" y2="315.4" stroke="#2a2a2a" stroke-width="1.1" />
<text x="631.12" y="533.6" font-size="11" text-anchor="middle" font-weight="normal" fill="#222" stroke="#222" stroke-width="0.3" >3</text>
<line x1="646.31" y1="513.1" x2="646.31" y2="516.1" stroke="#2a2a2a" stroke-width="1.1" />
<line x1="646.31" y1="311.4" x2="646.31" y2="313.4" stroke="#2a2a2a" stroke-width="1.1" />
<line x1="661.5" y1="513.1" x2="661.5" y2="518.1" stroke="#2a2a2a" stroke-width="1.1" />
<line x1="661.5" y1="311.4" x2="661.5" y2="315.4" stroke="#2a2a2a" stroke-width="1.1" />
<text x="661.5" y="533.6" font-size="11" text-anchor="middle" font-weight="normal" fill="#222" stroke="#222" stroke-width="0.3" >4</text>
<line x1="399" y1="505.3" x2="403.5" y2="505.3" stroke="#2a2a2a" stroke-width="1.1" />
<line x1="676.3" y1="505.3" x2="672.8" y2="505.3" stroke="#2a2a2a" stroke-width="1.1" />
<text x="392.7" y="509.2" font-size="11" text-anchor="end" font-weight="normal" fill="#222" stroke="#222" stroke-width="0.3" >-6</text>
<line x1="401" y1="489.8" x2="403.5" y2="489.8" stroke="#2a2a2a" stroke-width="1.1" />
<line x1="676.3" y1="489.8" x2="672.8" y2="489.8" stroke="#2a2a2a" stroke-width="1.1" />
<line x1="399" y1="474.3" x2="403.5" y2="474.3" stroke="#2a2a2a" stroke-width="1.1" />
<line x1="676.3" y1="474.3" x2="672.8" y2="474.3" stroke="#2a2a2a" stroke-width="1.1" />
<text x="392.7" y="478.2" font-size="11" text-anchor="end" font-weight="normal" fill="#222" stroke="#222" stroke-width="0.3" >-4</text>
<line x1="401" y1="458.8" x2="403.5" y2="458.8" stroke="#2a2a2a" stroke-width="1.1" />
<line x1="676.3" y1="458.8" x2="672.8" y2="458.8" stroke="#2a2a2a" stroke-width="1.1" />
<line x1="399" y1="443.3" x2="403.5" y2="443.3" stroke="#2a2a2a" stroke-width="1.1" />
<line x1="676.3" y1="443.3" x2="672.8" y2="443.3" stroke="#2a2a2a" stroke-width="1.1" />
<text x="392.7" y="447.2" font-size="11" text-anchor="end" font-weight="normal" fill="#222" stroke="#222" stroke-width="0.3" >-2</text>
<line x1="401" y1="427.8" x2="403.5" y2="427.8" stroke="#2a2a2a" stroke-width="1.1" />
<line x1="676.3" y1="427.8" x2="672.8" y2="427.8" stroke="#2a2a2a" stroke-width="1.1" />
<line x1="399" y1="412.3" x2="403.5" y2="412.3" stroke="#2a2a2a" stroke-width="1.1" />
<line x1="676.3" y1="412.3" x2="672.8" y2="412.3" stroke="#2a2a2a" stroke-width="1.1" />
<text x="392.7" y="416.2" font-size="11" text-anchor="end" font-weight="normal" fill="#222" stroke="#222" stroke-width="0.3" >0</text>
<line x1="401" y1="396.8" x2="403.5" y2="396.8" stroke="#2a2a2a" stroke-width="1.1" />
<line x1="676.3" y1="396.8" x2="672.8" y2="396.8" stroke="#2a2a2a" stroke-width="1.1" />
<line x1="399" y1="381.3" x2="403.5" y2="381.3" stroke="#2a2a2a" stroke-width="1.1" />
<line x1="676.3" y1="381.3" x2="672.8" y2="381.3" stroke="#2a2a2a" stroke-width="1.1" />
<text x="392.7" y="385.2" font-size="11" text-anchor="end" font-weight="normal" fill="#222" stroke="#222" stroke-width="0.3" >2</text>
<line x1="401" y1="365.8" x2="403.5" y2="365.8" stroke="#2a2a2a" stroke-width="1.1" />
<line x1="676.3" y1="365.8" x2="672.8" y2="365.8" stroke="#2a2a2a" stroke-width="1.1" />
<line x1="399" y1="350.3" x2="403.5" y2="350.3" stroke="#2a2a2a" stroke-width="1.1" />
<line x1="676.3" y1="350.3" x2="672.8" y2="350.3" stroke="#2a2a2a" stroke-width="1.1" />
<text x="392.7" y="354.2" font-size="11" text-anchor="end" font-weight="normal" fill="#222" stroke="#222" stroke-width="0.3" >4</text>
<line x1="401" y1="334.8" x2="403.5" y2="334.8" stroke="#2a2a2a" stroke-width="1.1" />
<line x1="676.3" y1="334.8" x2="672.8" y2="334.8" stroke="#2a2a2a" stroke-width="1.1" />
<line x1="399" y1="319.3" x2="403.5" y2="319.3" stroke="#2a2a2a" stroke-width="1.1" />
<line x1="676.3" y1="319.3" x2="672.8" y2="319.3" stroke="#2a2a2a" stroke-width="1.1" />
<text x="392.7" y="323.2" font-size="11" text-anchor="end" font-weight="normal" fill="#222" stroke="#222" stroke-width="0.3" >6</text>
<line x1="403.5" y1="412.3" x2="676.3" y2="412.3" stroke="#222" stroke-width="1.3" />
<line x1="540" y1="338.2" x2="540" y2="513.1" stroke="#555" stroke-width="1.3" />
<text x="353.6" y="315.4" font-size="16" text-anchor="start" font-weight="bold" fill="#000" stroke="#000" stroke-width="0.3" >d</text>
<text x="539.9" y="551.9" font-size="11.7" text-anchor="middle" font-weight="normal" fill="#222" stroke="#222" stroke-width="0.3" >Applied magnetic field (T)</text>
<text transform="translate(369.4,413.2) rotate(-90)" font-size="11.7" text-anchor="middle" fill="#222">Magnetic moment (μ<tspan font-size="7.5" dy="3.3">B</tspan><tspan dy="-3.3">/f.u.)</tspan></text>
<text x="526.2" y="330.3" font-size="12.8" text-anchor="start" font-weight="bold" fill="#111" stroke="#111" stroke-width="0.3" letter-spacing="0.2">(001)</text>
<text x="616.2" y="486.7" font-size="11.7" text-anchor="start" font-weight="normal" fill="#222" stroke="#222" stroke-width="0.3" >H // [1-10]</text>
<text x="616.2" y="501.1" font-size="11.7" text-anchor="start" font-weight="normal" fill="#222" stroke="#222" stroke-width="0.3" >at 5 K</text>
<clipPath id="cd"><rect x="403.5" y="311.4" width="272.79999999999995" height="201.70000000000005"/></clipPath><g clip-path="url(#cd)">
<path d="M661.5 343.71L655.42 345.42L649.35 346.93L643.27 348.84L637.2 349.98L631.12 350.21L625.05 351.42L618.98 355.1L612.9 354.34L606.83 350.92L600.75 348.65L597.71 348.12L594.67 347.78L591.64 347.6L588.6 348.58L585.56 349.77L582.52 350.92L579.49 352.48L576.45 354.08L573.41 355.47L570.38 356.46L567.34 357.07L564.3 357.66L561.26 358.5L558.23 359.83L555.19 361.71L552.15 365.03L549.11 367.81L546.08 370.32L543.04 372.74L540 375.2L536.96 378.87L533.92 381.76L530.89 384.11L527.85 386.32L524.81 389.16L521.77 392.21L518.74 395.79L515.7 402.5L512.66 410.54L509.62 422.29L506.59 428.77L503.55 436.34L500.51 444.44L497.48 450.51L494.44 455.42L491.4 458.87L488.36 460.91L485.32 462.71L482.29 464.32L479.25 465.67L473.18 467.6L467.1 466.91L461.02 467.72L454.95 469.13L448.88 470.49L442.8 470.69L436.73 470.84L430.65 470.93L424.57 470.99L418.5 471" fill="none" stroke="#6aae6a" stroke-width="0.6" stroke-opacity="1.0"/>
<path d="M418.5 471.3L424.57 471.3L430.65 471.3L436.73 471.31L442.8 471.32L448.88 471.33L454.95 471.34L461.02 471.36L467.1 471.39L473.18 471.42L479.25 471.45L482.29 471.47L485.32 471.5L488.36 471.91L491.4 472.83L494.44 473.4L497.48 473.46L500.51 474.23L503.55 475.26L506.59 473.88L509.62 473.16L512.66 472.69L515.7 470.72L518.74 467.83L521.77 464.73L524.81 461.62L527.85 458.7L530.89 456.17L533.92 453.66L536.96 451.12L540 448.05L543.04 445.37L546.08 444.23L549.11 442.7L552.15 440.73L555.19 438.51L558.23 434.16L561.26 426.79L564.3 419.36L567.34 411.09L570.38 400.97L573.41 393.91L576.45 385.18L579.49 377.82L582.52 372.76L585.56 368.36L588.6 364.97L591.64 363.03L594.67 360.15L597.71 359.15L600.75 359.08L606.83 355.93L612.9 355.5L618.98 355.9L625.05 350.99L631.12 350.54L637.2 350.22L643.27 349.67L649.35 346.92L655.42 345.42L661.5 343.71" fill="none" stroke="#6aae6a" stroke-width="0.6" stroke-opacity="1.0"/>
<path d="M661.5 341.23L663.8 345.37L659.2 345.37zM655.42 342.94L657.72 347.08L653.12 347.08zM649.35 344.45L651.65 348.59L647.05 348.59zM643.27 346.35L645.57 350.49L640.98 350.49zM637.2 347.5L639.5 351.64L634.9 351.64zM631.12 347.73L633.42 351.87L628.83 351.87zM625.05 348.94L627.35 353.08L622.75 353.08zM618.98 352.62L621.27 356.76L616.68 356.76zM612.9 351.86L615.2 356L610.6 356zM606.83 348.44L609.12 352.58L604.53 352.58zM600.75 346.17L603.05 350.31L598.45 350.31zM597.71 345.63L600.01 349.77L595.41 349.77zM594.67 345.3L596.97 349.44L592.38 349.44zM591.64 345.12L593.94 349.26L589.34 349.26zM588.6 346.1L590.9 350.24L586.3 350.24zM585.56 347.29L587.86 351.43L583.26 351.43zM582.52 348.44L584.82 352.58L580.23 352.58zM579.49 350L581.79 354.14L577.19 354.14zM576.45 351.6L578.75 355.74L574.15 355.74zM573.41 352.98L575.71 357.12L571.11 357.12zM570.38 353.97L572.67 358.11L568.08 358.11zM567.34 354.59L569.64 358.73L565.04 358.73zM564.3 355.18L566.6 359.32L562 359.32zM561.26 356.02L563.56 360.16L558.96 360.16zM558.23 357.34L560.52 361.48L555.93 361.48zM555.19 359.23L557.49 363.37L552.89 363.37zM552.15 362.54L554.45 366.68L549.85 366.68zM549.11 365.33L551.41 369.47L546.81 369.47zM546.08 367.84L548.38 371.98L543.78 371.98zM543.04 370.26L545.34 374.4L540.74 374.4zM540 372.72L542.3 376.86L537.7 376.86zM536.96 376.39L539.26 380.53L534.66 380.53zM533.92 379.28L536.22 383.42L531.62 383.42zM530.89 381.63L533.19 385.77L528.59 385.77zM527.85 383.84L530.15 387.98L525.55 387.98zM524.81 386.68L527.11 390.82L522.51 390.82zM521.77 389.72L524.07 393.86L519.48 393.86zM518.74 393.31L521.04 397.45L516.44 397.45zM515.7 400.02L518 404.16L513.4 404.16zM512.66 408.05L514.96 412.19L510.36 412.19zM509.62 419.8L511.93 423.94L507.32 423.94zM506.59 426.28L508.89 430.42L504.29 430.42zM503.55 433.86L505.85 438L501.25 438zM500.51 441.95L502.81 446.09L498.21 446.09zM497.48 448.02L499.78 452.16L495.18 452.16zM494.44 452.93L496.74 457.07L492.14 457.07zM491.4 456.39L493.7 460.53L489.1 460.53zM488.36 458.43L490.66 462.57L486.06 462.57zM485.32 460.22L487.62 464.36L483.02 464.36zM482.29 461.83L484.59 465.97L479.99 465.97zM479.25 463.19L481.55 467.33L476.95 467.33zM473.18 465.12L475.48 469.26L470.88 469.26zM467.1 464.42L469.4 468.56L464.8 468.56zM461.02 465.23L463.32 469.37L458.72 469.37zM454.95 466.65L457.25 470.79L452.65 470.79zM448.88 468L451.18 472.14L446.57 472.14zM442.8 468.21L445.1 472.35L440.5 472.35zM436.73 468.35L439.03 472.49L434.43 472.49zM430.65 468.45L432.95 472.59L428.35 472.59zM424.57 468.5L426.88 472.64L422.27 472.64zM418.5 468.52L420.8 472.66L416.2 472.66zM418.5 468.82L420.8 472.96L416.2 472.96zM424.57 468.82L426.88 472.96L422.27 472.96zM430.65 468.82L432.95 472.96L428.35 472.96zM436.73 468.82L439.03 472.96L434.43 472.96zM442.8 468.83L445.1 472.97L440.5 472.97zM448.88 468.84L451.18 472.98L446.57 472.98zM454.95 468.86L457.25 473L452.65 473zM461.02 468.88L463.32 473.02L458.72 473.02zM467.1 468.9L469.4 473.04L464.8 473.04zM473.18 468.93L475.48 473.07L470.88 473.07zM479.25 468.97L481.55 473.11L476.95 473.11zM482.29 468.99L484.59 473.13L479.99 473.13zM485.32 469.01L487.62 473.15L483.02 473.15zM488.36 469.43L490.66 473.57L486.06 473.57zM491.4 470.35L493.7 474.49L489.1 474.49zM494.44 470.92L496.74 475.06L492.14 475.06zM497.48 470.98L499.78 475.12L495.18 475.12zM500.51 471.74L502.81 475.88L498.21 475.88zM503.55 472.78L505.85 476.92L501.25 476.92zM506.59 471.39L508.89 475.53L504.29 475.53zM509.62 470.68L511.93 474.82L507.32 474.82zM512.66 470.2L514.96 474.34L510.36 474.34zM515.7 468.24L518 472.38L513.4 472.38zM518.74 465.35L521.04 469.49L516.44 469.49zM521.77 462.24L524.07 466.38L519.48 466.38zM524.81 459.14L527.11 463.28L522.51 463.28zM527.85 456.21L530.15 460.35L525.55 460.35zM530.89 453.68L533.19 457.82L528.59 457.82zM533.92 451.18L536.22 455.32L531.62 455.32zM536.96 448.63L539.26 452.77L534.66 452.77zM540 445.57L542.3 449.71L537.7 449.71zM543.04 442.88L545.34 447.02L540.74 447.02zM546.08 441.74L548.38 445.88L543.78 445.88zM549.11 440.22L551.41 444.36L546.81 444.36zM552.15 438.25L554.45 442.39L549.85 442.39zM555.19 436.03L557.49 440.17L552.89 440.17zM558.23 431.67L560.52 435.81L555.93 435.81zM561.26 424.31L563.56 428.45L558.96 428.45zM564.3 416.87L566.6 421.01L562 421.01zM567.34 408.6L569.64 412.74L565.04 412.74zM570.38 398.49L572.67 402.63L568.08 402.63zM573.41 391.43L575.71 395.57L571.11 395.57zM576.45 382.69L578.75 386.83L574.15 386.83zM579.49 375.34L581.79 379.48L577.19 379.48zM582.52 370.28L584.82 374.42L580.23 374.42zM585.56 365.88L587.86 370.02L583.26 370.02zM588.6 362.48L590.9 366.62L586.3 366.62zM591.64 360.55L593.94 364.69L589.34 364.69zM594.67 357.66L596.97 361.8L592.38 361.8zM597.71 356.67L600.01 360.81L595.41 360.81zM600.75 356.59L603.05 360.73L598.45 360.73zM606.83 353.44L609.12 357.58L604.53 357.58zM612.9 353.02L615.2 357.16L610.6 357.16zM618.98 353.42L621.27 357.56L616.68 357.56zM625.05 348.51L627.35 352.65L622.75 352.65zM631.12 348.06L633.42 352.2L628.83 352.2zM637.2 347.74L639.5 351.88L634.9 351.88zM643.27 347.18L645.57 351.32L640.98 351.32zM649.35 344.44L651.65 348.58L647.05 348.58zM655.42 342.94L657.72 347.08L653.12 347.08zM661.5 341.23L663.8 345.37L659.2 345.37z" fill="none" stroke="#1e7e1a" stroke-width="1.15"/>
<path d="M661.5 353.52L655.42 352.99L649.35 352.05L643.27 350.24L637.2 350.2L631.12 350.2L625.05 350.2L618.98 351.02L612.9 352.64L606.83 354.3L600.75 353.53L597.71 353.17L594.67 352.89L591.64 352.76L588.6 350.61L585.56 349.63L582.52 349.84L579.49 351.79L576.45 354.2L573.41 356.67L570.38 358.82L567.34 360.44L564.3 361.51L561.26 362.19L558.23 362.2L555.19 362.53L552.15 363.46L549.11 364.68L546.08 366.06L543.04 368.41L540 370.66L536.96 373.21L533.92 375.63L530.89 377.48L527.85 379.29L524.81 381.13L521.77 382.94L518.74 384.8L515.7 386.61L512.66 389.51L509.62 393.19L506.59 397.94L503.55 405.7L500.51 414.76L497.48 423.77L494.44 432.88L491.4 441.78L488.36 449.51L485.32 455.11L482.29 458.65L479.25 461.37L473.18 465.97L467.1 468.45L461.02 470.5L454.95 471.12L448.88 471.3L442.8 471.3L436.73 471.3L430.65 471.3L424.57 471.3L418.5 471.3" fill="none" stroke="#6a6ad8" stroke-width="0.6" stroke-opacity="1.0"/>
<path d="M418.5 471.3L424.57 471.34L430.65 471.37L436.73 471.4L442.8 471.43L448.88 471.46L454.95 471.47L461.02 471.49L467.1 471.5L473.18 471.5L479.25 471.5L482.29 471.5L485.32 471.5L488.36 471.47L491.4 471.35L494.44 470.2L497.48 468.8L500.51 467.82L503.55 467.21L506.59 467.2L509.62 467.12L512.66 466.39L515.7 465.28L518.74 464.02L521.77 462.81L524.81 461.06L527.85 459.16L530.89 457.36L533.92 456.08L536.96 454.9L540 453.65L543.04 451.85L546.08 449.99L549.11 448.17L552.15 446.35L555.19 444.65L558.23 442.53L561.26 438.3L564.3 437.15L567.34 435.12L570.38 431.6L573.41 425.24L576.45 417.77L579.49 410L582.52 401.42L585.56 391.82L588.6 382.02L591.64 374.1L594.67 368.31L597.71 364.79L600.75 362.21L606.83 358.39L612.9 355.81L618.98 352.75L625.05 350.5L631.12 350.5L637.2 350.5L643.27 350.5L649.35 350.59L655.42 350.78L661.5 351.01" fill="none" stroke="#6a6ad8" stroke-width="0.6" stroke-opacity="1.0"/>
<path d="M660 353.52a1.5 1.5 0 1 0 3 0a1.5 1.5 0 1 0 -3 0zM653.92 352.99a1.5 1.5 0 1 0 3 0a1.5 1.5 0 1 0 -3 0zM647.85 352.05a1.5 1.5 0 1 0 3 0a1.5 1.5 0 1 0 -3 0zM641.77 350.24a1.5 1.5 0 1 0 3 0a1.5 1.5 0 1 0 -3 0zM635.7 350.2a1.5 1.5 0 1 0 3 0a1.5 1.5 0 1 0 -3 0zM629.62 350.2a1.5 1.5 0 1 0 3 0a1.5 1.5 0 1 0 -3 0zM623.55 350.2a1.5 1.5 0 1 0 3 0a1.5 1.5 0 1 0 -3 0zM617.48 351.02a1.5 1.5 0 1 0 3 0a1.5 1.5 0 1 0 -3 0zM611.4 352.64a1.5 1.5 0 1 0 3 0a1.5 1.5 0 1 0 -3 0zM605.33 354.3a1.5 1.5 0 1 0 3 0a1.5 1.5 0 1 0 -3 0zM599.25 353.53a1.5 1.5 0 1 0 3 0a1.5 1.5 0 1 0 -3 0zM596.21 353.17a1.5 1.5 0 1 0 3 0a1.5 1.5 0 1 0 -3 0zM593.17 352.89a1.5 1.5 0 1 0 3 0a1.5 1.5 0 1 0 -3 0zM590.14 352.76a1.5 1.5 0 1 0 3 0a1.5 1.5 0 1 0 -3 0zM587.1 350.61a1.5 1.5 0 1 0 3 0a1.5 1.5 0 1 0 -3 0zM584.06 349.63a1.5 1.5 0 1 0 3 0a1.5 1.5 0 1 0 -3 0zM581.02 349.84a1.5 1.5 0 1 0 3 0a1.5 1.5 0 1 0 -3 0zM577.99 351.79a1.5 1.5 0 1 0 3 0a1.5 1.5 0 1 0 -3 0zM574.95 354.2a1.5 1.5 0 1 0 3 0a1.5 1.5 0 1 0 -3 0zM571.91 356.67a1.5 1.5 0 1 0 3 0a1.5 1.5 0 1 0 -3 0zM568.88 358.82a1.5 1.5 0 1 0 3 0a1.5 1.5 0 1 0 -3 0zM565.84 360.44a1.5 1.5 0 1 0 3 0a1.5 1.5 0 1 0 -3 0zM562.8 361.51a1.5 1.5 0 1 0 3 0a1.5 1.5 0 1 0 -3 0zM559.76 362.19a1.5 1.5 0 1 0 3 0a1.5 1.5 0 1 0 -3 0zM556.73 362.2a1.5 1.5 0 1 0 3 0a1.5 1.5 0 1 0 -3 0zM553.69 362.53a1.5 1.5 0 1 0 3 0a1.5 1.5 0 1 0 -3 0zM550.65 363.46a1.5 1.5 0 1 0 3 0a1.5 1.5 0 1 0 -3 0zM547.61 364.68a1.5 1.5 0 1 0 3 0a1.5 1.5 0 1 0 -3 0zM544.58 366.06a1.5 1.5 0 1 0 3 0a1.5 1.5 0 1 0 -3 0zM541.54 368.41a1.5 1.5 0 1 0 3 0a1.5 1.5 0 1 0 -3 0zM538.5 370.66a1.5 1.5 0 1 0 3 0a1.5 1.5 0 1 0 -3 0zM535.46 373.21a1.5 1.5 0 1 0 3 0a1.5 1.5 0 1 0 -3 0zM532.42 375.63a1.5 1.5 0 1 0 3 0a1.5 1.5 0 1 0 -3 0zM529.39 377.48a1.5 1.5 0 1 0 3 0a1.5 1.5 0 1 0 -3 0zM526.35 379.29a1.5 1.5 0 1 0 3 0a1.5 1.5 0 1 0 -3 0zM523.31 381.13a1.5 1.5 0 1 0 3 0a1.5 1.5 0 1 0 -3 0zM520.27 382.94a1.5 1.5 0 1 0 3 0a1.5 1.5 0 1 0 -3 0zM517.24 384.8a1.5 1.5 0 1 0 3 0a1.5 1.5 0 1 0 -3 0zM514.2 386.61a1.5 1.5 0 1 0 3 0a1.5 1.5 0 1 0 -3 0zM511.16 389.51a1.5 1.5 0 1 0 3 0a1.5 1.5 0 1 0 -3 0zM508.12 393.19a1.5 1.5 0 1 0 3 0a1.5 1.5 0 1 0 -3 0zM505.09 397.94a1.5 1.5 0 1 0 3 0a1.5 1.5 0 1 0 -3 0zM502.05 405.7a1.5 1.5 0 1 0 3 0a1.5 1.5 0 1 0 -3 0zM499.01 414.76a1.5 1.5 0 1 0 3 0a1.5 1.5 0 1 0 -3 0zM495.98 423.77a1.5 1.5 0 1 0 3 0a1.5 1.5 0 1 0 -3 0zM492.94 432.88a1.5 1.5 0 1 0 3 0a1.5 1.5 0 1 0 -3 0zM489.9 441.78a1.5 1.5 0 1 0 3 0a1.5 1.5 0 1 0 -3 0zM486.86 449.51a1.5 1.5 0 1 0 3 0a1.5 1.5 0 1 0 -3 0zM483.82 455.11a1.5 1.5 0 1 0 3 0a1.5 1.5 0 1 0 -3 0zM480.79 458.65a1.5 1.5 0 1 0 3 0a1.5 1.5 0 1 0 -3 0zM477.75 461.37a1.5 1.5 0 1 0 3 0a1.5 1.5 0 1 0 -3 0zM471.68 465.97a1.5 1.5 0 1 0 3 0a1.5 1.5 0 1 0 -3 0zM465.6 468.45a1.5 1.5 0 1 0 3 0a1.5 1.5 0 1 0 -3 0zM459.52 470.5a1.5 1.5 0 1 0 3 0a1.5 1.5 0 1 0 -3 0zM453.45 471.12a1.5 1.5 0 1 0 3 0a1.5 1.5 0 1 0 -3 0zM447.38 471.3a1.5 1.5 0 1 0 3 0a1.5 1.5 0 1 0 -3 0zM441.3 471.3a1.5 1.5 0 1 0 3 0a1.5 1.5 0 1 0 -3 0zM435.23 471.3a1.5 1.5 0 1 0 3 0a1.5 1.5 0 1 0 -3 0zM429.15 471.3a1.5 1.5 0 1 0 3 0a1.5 1.5 0 1 0 -3 0zM423.07 471.3a1.5 1.5 0 1 0 3 0a1.5 1.5 0 1 0 -3 0zM417 471.3a1.5 1.5 0 1 0 3 0a1.5 1.5 0 1 0 -3 0zM417 471.3a1.5 1.5 0 1 0 3 0a1.5 1.5 0 1 0 -3 0zM423.07 471.34a1.5 1.5 0 1 0 3 0a1.5 1.5 0 1 0 -3 0zM429.15 471.37a1.5 1.5 0 1 0 3 0a1.5 1.5 0 1 0 -3 0zM435.23 471.4a1.5 1.5 0 1 0 3 0a1.5 1.5 0 1 0 -3 0zM441.3 471.43a1.5 1.5 0 1 0 3 0a1.5 1.5 0 1 0 -3 0zM447.38 471.46a1.5 1.5 0 1 0 3 0a1.5 1.5 0 1 0 -3 0zM453.45 471.47a1.5 1.5 0 1 0 3 0a1.5 1.5 0 1 0 -3 0zM459.52 471.49a1.5 1.5 0 1 0 3 0a1.5 1.5 0 1 0 -3 0zM465.6 471.5a1.5 1.5 0 1 0 3 0a1.5 1.5 0 1 0 -3 0zM471.68 471.5a1.5 1.5 0 1 0 3 0a1.5 1.5 0 1 0 -3 0zM477.75 471.5a1.5 1.5 0 1 0 3 0a1.5 1.5 0 1 0 -3 0zM480.79 471.5a1.5 1.5 0 1 0 3 0a1.5 1.5 0 1 0 -3 0zM483.82 471.5a1.5 1.5 0 1 0 3 0a1.5 1.5 0 1 0 -3 0zM486.86 471.47a1.5 1.5 0 1 0 3 0a1.5 1.5 0 1 0 -3 0zM489.9 471.35a1.5 1.5 0 1 0 3 0a1.5 1.5 0 1 0 -3 0zM492.94 470.2a1.5 1.5 0 1 0 3 0a1.5 1.5 0 1 0 -3 0zM495.98 468.8a1.5 1.5 0 1 0 3 0a1.5 1.5 0 1 0 -3 0zM499.01 467.82a1.5 1.5 0 1 0 3 0a1.5 1.5 0 1 0 -3 0zM502.05 467.21a1.5 1.5 0 1 0 3 0a1.5 1.5 0 1 0 -3 0zM505.09 467.2a1.5 1.5 0 1 0 3 0a1.5 1.5 0 1 0 -3 0zM508.12 467.12a1.5 1.5 0 1 0 3 0a1.5 1.5 0 1 0 -3 0zM511.16 466.39a1.5 1.5 0 1 0 3 0a1.5 1.5 0 1 0 -3 0zM514.2 465.28a1.5 1.5 0 1 0 3 0a1.5 1.5 0 1 0 -3 0zM517.24 464.02a1.5 1.5 0 1 0 3 0a1.5 1.5 0 1 0 -3 0zM520.27 462.81a1.5 1.5 0 1 0 3 0a1.5 1.5 0 1 0 -3 0zM523.31 461.06a1.5 1.5 0 1 0 3 0a1.5 1.5 0 1 0 -3 0zM526.35 459.16a1.5 1.5 0 1 0 3 0a1.5 1.5 0 1 0 -3 0zM529.39 457.36a1.5 1.5 0 1 0 3 0a1.5 1.5 0 1 0 -3 0zM532.42 456.08a1.5 1.5 0 1 0 3 0a1.5 1.5 0 1 0 -3 0zM535.46 454.9a1.5 1.5 0 1 0 3 0a1.5 1.5 0 1 0 -3 0zM538.5 453.65a1.5 1.5 0 1 0 3 0a1.5 1.5 0 1 0 -3 0zM541.54 451.85a1.5 1.5 0 1 0 3 0a1.5 1.5 0 1 0 -3 0zM544.58 449.99a1.5 1.5 0 1 0 3 0a1.5 1.5 0 1 0 -3 0zM547.61 448.17a1.5 1.5 0 1 0 3 0a1.5 1.5 0 1 0 -3 0zM550.65 446.35a1.5 1.5 0 1 0 3 0a1.5 1.5 0 1 0 -3 0zM553.69 444.65a1.5 1.5 0 1 0 3 0a1.5 1.5 0 1 0 -3 0zM556.73 442.53a1.5 1.5 0 1 0 3 0a1.5 1.5 0 1 0 -3 0zM559.76 438.3a1.5 1.5 0 1 0 3 0a1.5 1.5 0 1 0 -3 0zM562.8 437.15a1.5 1.5 0 1 0 3 0a1.5 1.5 0 1 0 -3 0zM565.84 435.12a1.5 1.5 0 1 0 3 0a1.5 1.5 0 1 0 -3 0zM568.88 431.6a1.5 1.5 0 1 0 3 0a1.5 1.5 0 1 0 -3 0zM571.91 425.24a1.5 1.5 0 1 0 3 0a1.5 1.5 0 1 0 -3 0zM574.95 417.77a1.5 1.5 0 1 0 3 0a1.5 1.5 0 1 0 -3 0zM577.99 410a1.5 1.5 0 1 0 3 0a1.5 1.5 0 1 0 -3 0zM581.02 401.42a1.5 1.5 0 1 0 3 0a1.5 1.5 0 1 0 -3 0zM584.06 391.82a1.5 1.5 0 1 0 3 0a1.5 1.5 0 1 0 -3 0zM587.1 382.02a1.5 1.5 0 1 0 3 0a1.5 1.5 0 1 0 -3 0zM590.14 374.1a1.5 1.5 0 1 0 3 0a1.5 1.5 0 1 0 -3 0zM593.17 368.31a1.5 1.5 0 1 0 3 0a1.5 1.5 0 1 0 -3 0zM596.21 364.79a1.5 1.5 0 1 0 3 0a1.5 1.5 0 1 0 -3 0zM599.25 362.21a1.5 1.5 0 1 0 3 0a1.5 1.5 0 1 0 -3 0zM605.33 358.39a1.5 1.5 0 1 0 3 0a1.5 1.5 0 1 0 -3 0zM611.4 355.81a1.5 1.5 0 1 0 3 0a1.5 1.5 0 1 0 -3 0zM617.48 352.75a1.5 1.5 0 1 0 3 0a1.5 1.5 0 1 0 -3 0zM623.55 350.5a1.5 1.5 0 1 0 3 0a1.5 1.5 0 1 0 -3 0zM629.62 350.5a1.5 1.5 0 1 0 3 0a1.5 1.5 0 1 0 -3 0zM635.7 350.5a1.5 1.5 0 1 0 3 0a1.5 1.5 0 1 0 -3 0zM641.77 350.5a1.5 1.5 0 1 0 3 0a1.5 1.5 0 1 0 -3 0zM647.85 350.59a1.5 1.5 0 1 0 3 0a1.5 1.5 0 1 0 -3 0zM653.92 350.78a1.5 1.5 0 1 0 3 0a1.5 1.5 0 1 0 -3 0zM660 351.01a1.5 1.5 0 1 0 3 0a1.5 1.5 0 1 0 -3 0z" fill="none" stroke="#1c1cc4" stroke-width="1.15"/>
</g>
<path d="M403.5 311.4H676.3V513.1H403.5Z" fill="none" stroke="#1e1e1e" stroke-width="1.35"/>
<line x1="420" y1="342.4" x2="429.3" y2="342.4" stroke="#6a6ae0" stroke-width="1.0" />
<line x1="437.3" y1="342.4" x2="446.5" y2="342.4" stroke="#6a6ae0" stroke-width="1.0" />
<path d="M431.7 342.4a1.6 1.6 0 1 0 3.2 0a1.6 1.6 0 1 0 -3.2 0z" fill="none" stroke="#1c1cc4" stroke-width="1.0"/>
<text x="454.5" y="346.5" font-size="11.7" text-anchor="start" font-weight="normal" fill="#222" stroke="#222" stroke-width="0.3" >LSAT</text>
<line x1="420" y1="356.3" x2="429.3" y2="356.3" stroke="#5aa55a" stroke-width="1.0" />
<line x1="437.3" y1="356.3" x2="446.5" y2="356.3" stroke="#5aa55a" stroke-width="1.0" />
<path d="M433.3 354.03L435.4 357.81L431.2 357.81z" fill="none" stroke="#1e7e1a" stroke-width="1.0"/>
<text x="454.5" y="360.4" font-size="11.7" text-anchor="start" font-weight="normal" fill="#222" stroke="#222" stroke-width="0.3" >SrTiO</text>
<text x="485.7" y="365.3" font-size="6.4" fill="#222" stroke="#222" stroke-width="0.2">3</text>
</svg>
</body></html>
